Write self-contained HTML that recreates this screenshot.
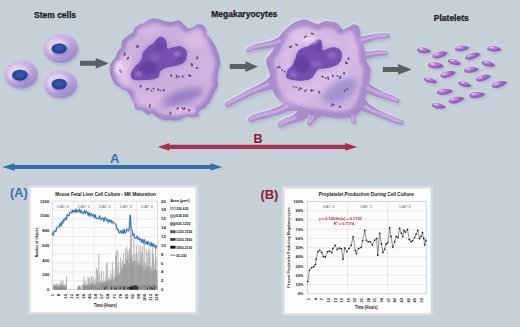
<!DOCTYPE html>
<html><head><meta charset="utf-8"><style>
html,body{margin:0;padding:0;width:520px;height:327px;overflow:hidden;background:#c5d0d8;}
svg{display:block;font-family:"Liberation Sans",sans-serif;}
</style></head><body>
<svg width="520" height="327" viewBox="0 0 520 327">
<defs>
<linearGradient id="cellg" x1="0.15" y1="0.05" x2="0.8" y2="1">
  <stop offset="0" stop-color="#d6c0e6"/>
  <stop offset="0.45" stop-color="#c0a6dc"/>
  <stop offset="1" stop-color="#9286c8"/>
</linearGradient>
<radialGradient id="nucg" cx="0.5" cy="0.45" r="0.6">
  <stop offset="0" stop-color="#3860b8"/>
  <stop offset="1" stop-color="#1f3a88"/>
</radialGradient>
<radialGradient id="plg" cx="0.32" cy="0.32" r="0.72" fx="0.3" fy="0.28">
  <stop offset="0" stop-color="#f8e0f6"/>
  <stop offset="0.25" stop-color="#bc8ad6"/>
  <stop offset="0.65" stop-color="#9462bc"/>
  <stop offset="1" stop-color="#8858b2"/>
</radialGradient>
<filter id="blur05" x="-30%" y="-30%" width="160%" height="160%"><feGaussianBlur stdDeviation="0.45"/></filter>
<filter id="blur1" x="-30%" y="-30%" width="160%" height="160%"><feGaussianBlur stdDeviation="0.7"/></filter>
<filter id="blur12" x="-40%" y="-40%" width="180%" height="180%"><feGaussianBlur stdDeviation="1.1"/></filter>
<filter id="blur2" x="-40%" y="-40%" width="180%" height="180%"><feGaussianBlur stdDeviation="1.5"/></filter>
<filter id="blur3" x="-50%" y="-50%" width="200%" height="200%"><feGaussianBlur stdDeviation="3"/></filter>
<filter id="shadow" x="-40%" y="-40%" width="180%" height="180%"><feGaussianBlur stdDeviation="1.4"/></filter>
</defs>
<rect x="0" y="0" width="520" height="327" fill="#c5d0d8"/>
<g font-family="Liberation Sans, sans-serif" font-weight="bold" font-size="8.5" fill="#1c1c22" stroke="#1c1c22" stroke-width="0.25"><text x="34" y="17.7">Stem cells</text><text x="211.2" y="16.9">Megakaryocytes</text><text x="433.8" y="20.9">Platelets</text></g>
<ellipse cx="61.9" cy="50.3" rx="17.3" ry="14.5" fill="#9890bc" opacity="0.45" filter="url(#shadow)"/><ellipse cx="60.7" cy="48.5" rx="17.3" ry="14.5" fill="url(#cellg)" filter="url(#blur1)"/><ellipse cx="57.7" cy="47" rx="10.8" ry="8.2" fill="#eadaf2" opacity="0.85" filter="url(#blur2)"/><ellipse cx="60.1" cy="49.6" rx="8.9" ry="6.4" fill="#8e7cc8" opacity="0.6" filter="url(#blur1)"/><ellipse cx="59.2" cy="48.6" rx="7.6" ry="5.2" fill="url(#nucg)" filter="url(#blur05)"/>
<ellipse cx="22.2" cy="76.4" rx="16.8" ry="14" fill="#9890bc" opacity="0.45" filter="url(#shadow)"/><ellipse cx="21" cy="74.6" rx="16.8" ry="14" fill="url(#cellg)" filter="url(#blur1)"/><ellipse cx="18.4" cy="73.6" rx="11" ry="8.5" fill="#eadaf2" opacity="0.85" filter="url(#blur2)"/><ellipse cx="20.8" cy="76.2" rx="9.1" ry="6.7" fill="#8e7cc8" opacity="0.6" filter="url(#blur1)"/><ellipse cx="19.9" cy="75.2" rx="7.8" ry="5.5" fill="url(#nucg)" filter="url(#blur05)"/>
<ellipse cx="61.7" cy="86.2" rx="16.6" ry="13.8" fill="#9890bc" opacity="0.45" filter="url(#shadow)"/><ellipse cx="60.5" cy="84.4" rx="16.6" ry="13.8" fill="url(#cellg)" filter="url(#blur1)"/><ellipse cx="57.7" cy="82.5" rx="10.8" ry="8.4" fill="#eadaf2" opacity="0.85" filter="url(#blur2)"/><ellipse cx="60.1" cy="85.1" rx="8.9" ry="6.6" fill="#8e7cc8" opacity="0.6" filter="url(#blur1)"/><ellipse cx="59.2" cy="84.1" rx="7.6" ry="5.4" fill="url(#nucg)" filter="url(#blur05)"/>
<path d="M80,60.75 H95.7 V57.95 L108.7,63.3 L95.7,68.65 V65.85 H80 Z" fill="#5e5f62"/>
<path d="M229.8,64.1 H245.4 V61.3 L258,66.6 L245.4,71.9 V69.1 H229.8 Z" fill="#5e5f62"/>
<path d="M382.8,66.9 H398.1 V64 L411.6,69.4 L398.1,74.8 V71.9 H382.8 Z" fill="#5e5f62"/>
<g>
<path d="M154.6,19.1 C156.58,19.23 159.67,20.37 161.4,20.8 C163.13,21.23 163.27,21.4 165,21.7 C166.73,22 169.67,22.75 171.8,22.6 C173.93,22.45 176.08,20.67 177.8,20.8 C179.52,20.93 180.53,22.12 182.1,23.4 C183.67,24.68 185.48,27.65 187.2,28.5 C188.92,29.35 190.83,29.07 192.4,28.5 C193.97,27.93 195.03,25.67 196.6,25.1 C198.17,24.53 200.37,24.53 201.8,25.1 C203.23,25.67 204.5,27.07 205.2,28.5 C205.9,29.93 205.28,32.12 206,33.7 C206.72,35.28 208.35,36.43 209.5,38 C210.65,39.57 211.9,41.4 212.9,43.1 C213.9,44.8 214.65,46.22 215.5,48.2 C216.35,50.18 217.33,52.7 218,55 C218.67,57.3 219.42,59.83 219.5,62 C219.58,64.17 218.87,66.17 218.5,68 C218.13,69.83 217.65,71.05 217.3,73 C216.95,74.95 216.4,77.67 216.4,79.7 C216.4,81.73 217.6,83.37 217.3,85.2 C217,87.03 215.52,88.87 214.6,90.7 C213.68,92.53 212.72,94.37 211.8,96.2 C210.88,98.03 210.32,99.87 209.1,101.7 C207.88,103.53 206.35,105.67 204.5,107.2 C202.65,108.73 199.08,109.52 198,110.9 C196.92,112.28 198.92,114.58 198,115.5 C197.08,116.42 194.33,116.4 192.5,116.4 C190.67,116.4 188.83,115.18 187,115.5 C185.17,115.82 183.33,117.53 181.5,118.3 C179.67,119.07 177.83,119.95 176,120.1 C174.17,120.25 172.42,119.28 170.5,119.2 C168.58,119.12 166.55,119.92 164.5,119.6 C162.45,119.28 160.17,118.45 158.2,117.3 C156.23,116.15 154.53,113.3 152.7,112.7 C150.87,112.1 149.03,114.3 147.2,113.7 C145.37,113.1 143.53,109.87 141.7,109.1 C139.87,108.33 137.42,110.02 136.2,109.1 C134.98,108.18 135.32,105.75 134.4,103.6 C133.48,101.45 131.93,98.35 130.7,96.2 C129.47,94.05 128.53,92.07 127,90.7 C125.47,89.33 123.48,89.22 121.5,88 C119.52,86.78 116.63,85.08 115.1,83.4 C113.57,81.72 113.07,79.75 112.3,77.9 C111.53,76.05 110.8,74.15 110.5,72.3 C110.2,70.45 110.28,68.38 110.5,66.8 C110.72,65.22 111,64.18 111.8,62.8 C112.6,61.42 114.43,59.8 115.3,58.5 C116.17,57.2 116.43,56.28 117,55 C117.57,53.72 117.85,52.07 118.7,50.8 C119.55,49.53 121.53,48.83 122.1,47.4 C122.67,45.97 121.67,43.63 122.1,42.2 C122.53,40.77 123.55,39.93 124.7,38.8 C125.85,37.67 127.58,36.4 129,35.4 C130.42,34.4 132.22,33.95 133.2,32.8 C134.18,31.65 133.9,29.78 134.9,28.5 C135.9,27.22 137.63,25.95 139.2,25.1 C140.77,24.25 142.58,24.25 144.3,23.4 C146.02,22.55 147.78,20.72 149.5,20 C151.22,19.28 152.62,18.97 154.6,19.1Z" fill="#8a80b4" opacity="0.4" filter="url(#blur2)" transform="translate(1.5,2)"/>
<path d="M154.6,19.1 C156.58,19.23 159.67,20.37 161.4,20.8 C163.13,21.23 163.27,21.4 165,21.7 C166.73,22 169.67,22.75 171.8,22.6 C173.93,22.45 176.08,20.67 177.8,20.8 C179.52,20.93 180.53,22.12 182.1,23.4 C183.67,24.68 185.48,27.65 187.2,28.5 C188.92,29.35 190.83,29.07 192.4,28.5 C193.97,27.93 195.03,25.67 196.6,25.1 C198.17,24.53 200.37,24.53 201.8,25.1 C203.23,25.67 204.5,27.07 205.2,28.5 C205.9,29.93 205.28,32.12 206,33.7 C206.72,35.28 208.35,36.43 209.5,38 C210.65,39.57 211.9,41.4 212.9,43.1 C213.9,44.8 214.65,46.22 215.5,48.2 C216.35,50.18 217.33,52.7 218,55 C218.67,57.3 219.42,59.83 219.5,62 C219.58,64.17 218.87,66.17 218.5,68 C218.13,69.83 217.65,71.05 217.3,73 C216.95,74.95 216.4,77.67 216.4,79.7 C216.4,81.73 217.6,83.37 217.3,85.2 C217,87.03 215.52,88.87 214.6,90.7 C213.68,92.53 212.72,94.37 211.8,96.2 C210.88,98.03 210.32,99.87 209.1,101.7 C207.88,103.53 206.35,105.67 204.5,107.2 C202.65,108.73 199.08,109.52 198,110.9 C196.92,112.28 198.92,114.58 198,115.5 C197.08,116.42 194.33,116.4 192.5,116.4 C190.67,116.4 188.83,115.18 187,115.5 C185.17,115.82 183.33,117.53 181.5,118.3 C179.67,119.07 177.83,119.95 176,120.1 C174.17,120.25 172.42,119.28 170.5,119.2 C168.58,119.12 166.55,119.92 164.5,119.6 C162.45,119.28 160.17,118.45 158.2,117.3 C156.23,116.15 154.53,113.3 152.7,112.7 C150.87,112.1 149.03,114.3 147.2,113.7 C145.37,113.1 143.53,109.87 141.7,109.1 C139.87,108.33 137.42,110.02 136.2,109.1 C134.98,108.18 135.32,105.75 134.4,103.6 C133.48,101.45 131.93,98.35 130.7,96.2 C129.47,94.05 128.53,92.07 127,90.7 C125.47,89.33 123.48,89.22 121.5,88 C119.52,86.78 116.63,85.08 115.1,83.4 C113.57,81.72 113.07,79.75 112.3,77.9 C111.53,76.05 110.8,74.15 110.5,72.3 C110.2,70.45 110.28,68.38 110.5,66.8 C110.72,65.22 111,64.18 111.8,62.8 C112.6,61.42 114.43,59.8 115.3,58.5 C116.17,57.2 116.43,56.28 117,55 C117.57,53.72 117.85,52.07 118.7,50.8 C119.55,49.53 121.53,48.83 122.1,47.4 C122.67,45.97 121.67,43.63 122.1,42.2 C122.53,40.77 123.55,39.93 124.7,38.8 C125.85,37.67 127.58,36.4 129,35.4 C130.42,34.4 132.22,33.95 133.2,32.8 C134.18,31.65 133.9,29.78 134.9,28.5 C135.9,27.22 137.63,25.95 139.2,25.1 C140.77,24.25 142.58,24.25 144.3,23.4 C146.02,22.55 147.78,20.72 149.5,20 C151.22,19.28 152.62,18.97 154.6,19.1Z" fill="#a488ca" filter="url(#blur05)"/>
<path d="M155.55,23.5 C157.37,23.67 160.19,24.83 161.78,25.28 C163.36,25.73 163.48,25.9 165.05,26.2 C166.62,26.5 169.26,27.23 171.2,27.06 C173.14,26.89 175.14,25.07 176.7,25.16 C178.26,25.26 179.18,26.41 180.58,27.63 C181.97,28.85 183.54,31.71 185.09,32.48 C186.65,33.25 188.44,32.88 189.93,32.26 C191.42,31.65 192.51,29.4 194.02,28.79 C195.52,28.17 197.61,28.09 198.95,28.58 C200.29,29.08 201.46,30.38 202.07,31.73 C202.68,33.08 202,35.2 202.63,36.68 C203.26,38.16 204.78,39.18 205.84,40.62 C206.9,42.05 208.05,43.73 208.97,45.29 C209.89,46.85 210.58,48.15 211.36,49.96 C212.14,51.78 213.05,54.09 213.66,56.2 C214.28,58.31 214.99,60.63 215.04,62.62 C215.1,64.61 214.37,66.45 214,68.13 C213.63,69.81 213.15,70.92 212.81,72.7 C212.47,74.48 211.96,76.95 211.99,78.82 C212.02,80.68 213.25,82.21 212.99,83.89 C212.74,85.58 211.32,87.24 210.47,88.92 C209.62,90.59 208.73,92.27 207.9,93.95 C207.07,95.64 206.59,97.34 205.48,99.03 C204.37,100.71 202.97,102.68 201.26,104.07 C199.55,105.46 196.2,106.07 195.22,107.36 C194.24,108.65 196.23,110.97 195.4,111.82 C194.58,112.68 191.97,112.57 190.25,112.5 C188.54,112.43 186.79,111.17 185.09,111.42 C183.4,111.68 181.77,113.31 180.1,114.02 C178.43,114.74 176.76,115.58 175.09,115.69 C173.41,115.81 171.8,114.82 170.05,114.72 C168.3,114.62 166.45,115.41 164.59,115.1 C162.73,114.79 160.65,113.97 158.88,112.85 C157.11,111.73 155.64,108.94 153.98,108.39 C152.32,107.83 150.58,110.07 148.92,109.54 C147.26,109.02 145.69,105.92 144.02,105.24 C142.34,104.57 139.97,106.31 138.88,105.48 C137.78,104.65 138.2,102.28 137.43,100.28 C136.66,98.27 135.35,95.42 134.27,93.46 C133.19,91.5 132.38,89.73 130.94,88.53 C129.5,87.33 127.57,87.31 125.65,86.26 C123.73,85.2 120.92,83.71 119.44,82.2 C117.95,80.69 117.49,78.89 116.74,77.2 C116,75.51 115.29,73.77 114.99,72.07 C114.7,70.37 114.78,68.47 114.99,67.02 C115.21,65.57 115.48,64.62 116.27,63.36 C117.05,62.1 118.85,60.64 119.7,59.46 C120.54,58.29 120.78,57.45 121.31,56.29 C121.84,55.12 122.08,53.61 122.88,52.47 C123.68,51.33 125.6,50.75 126.11,49.44 C126.62,48.13 125.54,45.92 125.91,44.6 C126.27,43.27 127.23,42.53 128.3,41.51 C129.36,40.48 130.98,39.36 132.29,38.47 C133.6,37.58 135.29,37.24 136.17,36.18 C137.06,35.12 136.7,33.31 137.59,32.11 C138.48,30.91 140.06,29.74 141.49,28.97 C142.92,28.2 144.62,28.27 146.18,27.49 C147.75,26.71 149.32,24.95 150.88,24.28 C152.45,23.62 153.74,23.33 155.55,23.5Z" fill="#cbb0dd" filter="url(#blur2)"/>
<path d="M154.6,19.1 C156.58,19.23 159.67,20.37 161.4,20.8 C163.13,21.23 163.27,21.4 165,21.7 C166.73,22 169.67,22.75 171.8,22.6 C173.93,22.45 176.08,20.67 177.8,20.8 C179.52,20.93 180.53,22.12 182.1,23.4 C183.67,24.68 185.48,27.65 187.2,28.5 C188.92,29.35 190.83,29.07 192.4,28.5 C193.97,27.93 195.03,25.67 196.6,25.1 C198.17,24.53 200.37,24.53 201.8,25.1 C203.23,25.67 204.5,27.07 205.2,28.5 C205.9,29.93 205.28,32.12 206,33.7 C206.72,35.28 208.35,36.43 209.5,38 C210.65,39.57 211.9,41.4 212.9,43.1 C213.9,44.8 214.65,46.22 215.5,48.2 C216.35,50.18 217.33,52.7 218,55 C218.67,57.3 219.42,59.83 219.5,62 C219.58,64.17 218.87,66.17 218.5,68 C218.13,69.83 217.65,71.05 217.3,73 C216.95,74.95 216.4,77.67 216.4,79.7 C216.4,81.73 217.6,83.37 217.3,85.2 C217,87.03 215.52,88.87 214.6,90.7 C213.68,92.53 212.72,94.37 211.8,96.2 C210.88,98.03 210.32,99.87 209.1,101.7 C207.88,103.53 206.35,105.67 204.5,107.2 C202.65,108.73 199.08,109.52 198,110.9 C196.92,112.28 198.92,114.58 198,115.5 C197.08,116.42 194.33,116.4 192.5,116.4 C190.67,116.4 188.83,115.18 187,115.5 C185.17,115.82 183.33,117.53 181.5,118.3 C179.67,119.07 177.83,119.95 176,120.1 C174.17,120.25 172.42,119.28 170.5,119.2 C168.58,119.12 166.55,119.92 164.5,119.6 C162.45,119.28 160.17,118.45 158.2,117.3 C156.23,116.15 154.53,113.3 152.7,112.7 C150.87,112.1 149.03,114.3 147.2,113.7 C145.37,113.1 143.53,109.87 141.7,109.1 C139.87,108.33 137.42,110.02 136.2,109.1 C134.98,108.18 135.32,105.75 134.4,103.6 C133.48,101.45 131.93,98.35 130.7,96.2 C129.47,94.05 128.53,92.07 127,90.7 C125.47,89.33 123.48,89.22 121.5,88 C119.52,86.78 116.63,85.08 115.1,83.4 C113.57,81.72 113.07,79.75 112.3,77.9 C111.53,76.05 110.8,74.15 110.5,72.3 C110.2,70.45 110.28,68.38 110.5,66.8 C110.72,65.22 111,64.18 111.8,62.8 C112.6,61.42 114.43,59.8 115.3,58.5 C116.17,57.2 116.43,56.28 117,55 C117.57,53.72 117.85,52.07 118.7,50.8 C119.55,49.53 121.53,48.83 122.1,47.4 C122.67,45.97 121.67,43.63 122.1,42.2 C122.53,40.77 123.55,39.93 124.7,38.8 C125.85,37.67 127.58,36.4 129,35.4 C130.42,34.4 132.22,33.95 133.2,32.8 C134.18,31.65 133.9,29.78 134.9,28.5 C135.9,27.22 137.63,25.95 139.2,25.1 C140.77,24.25 142.58,24.25 144.3,23.4 C146.02,22.55 147.78,20.72 149.5,20 C151.22,19.28 152.62,18.97 154.6,19.1Z" fill="none" stroke="#9274c0" stroke-width="1.5" opacity="0.5" filter="url(#blur05)"/>
<ellipse cx="126" cy="72" rx="8" ry="16" fill="#e6c4ec" opacity="0.75" filter="url(#blur3)"/>
<ellipse cx="119" cy="68" rx="4.5" ry="7" fill="#f0dcf4" opacity="0.8" filter="url(#blur2)"/>
<ellipse cx="152" cy="100" rx="20" ry="7" fill="#e2bce8" opacity="0.7" filter="url(#blur3)"/>
<ellipse cx="196" cy="40" rx="12" ry="8" fill="#e4c2ea" opacity="0.65" filter="url(#blur3)"/>
<ellipse cx="150" cy="30" rx="14" ry="5" fill="#e0c0ea" opacity="0.55" filter="url(#blur3)"/>
<ellipse cx="182" cy="97" rx="22" ry="6.5" fill="#8468bc" opacity="0.7" filter="url(#blur3)" transform="rotate(-18 182 97)"/>
<ellipse cx="182" cy="111" rx="14" ry="4" fill="#e4bce6" opacity="0.7" filter="url(#blur2)"/>
<ellipse cx="206" cy="70" rx="6" ry="14" fill="#dcb8e6" opacity="0.5" filter="url(#blur3)"/>
<path d="M158.4,37.5 C160.08,36.57 162.3,36.57 163.7,37.5 C165.1,38.43 166.15,41.27 166.8,43.1 C167.45,44.93 166.48,47.8 167.6,48.5 C168.72,49.2 171.4,47.65 173.5,47.3 C175.6,46.95 178.23,46.12 180.2,46.4 C182.17,46.68 184.17,47.87 185.3,49 C186.43,50.13 186.87,51.67 187,53.2 C187.13,54.73 186.67,56.67 186.1,58.2 C185.53,59.73 184.87,61.28 183.6,62.4 C182.33,63.52 180.47,64.2 178.5,64.9 C176.53,65.6 174.03,66.03 171.8,66.6 C169.57,67.17 167.07,67.45 165.1,68.3 C163.13,69.15 161.08,70.3 160,71.7 C158.92,73.1 159.67,75.45 158.6,76.7 C157.53,77.95 155.83,78.63 153.6,79.2 C151.37,79.77 148,79.95 145.2,80.1 C142.4,80.25 139.05,80.38 136.8,80.1 C134.55,79.82 132.68,79.53 131.7,78.4 C130.72,77.27 130.48,75.12 130.9,73.3 C131.32,71.48 132.95,69.17 134.2,67.5 C135.45,65.83 137.13,64.85 138.4,63.3 C139.67,61.75 141.1,59.88 141.8,58.2 C142.5,56.52 142.03,54.6 142.6,53.2 C143.17,51.8 144.22,50.93 145.2,49.8 C146.18,48.67 147.1,47.52 148.5,46.4 C149.9,45.28 151.95,44.58 153.6,43.1 C155.25,41.62 156.72,38.43 158.4,37.5Z" fill="#8c6cc4" opacity="0.55" filter="url(#blur3)"/>
<path d="M158.4,37.5 C160.08,36.57 162.3,36.57 163.7,37.5 C165.1,38.43 166.15,41.27 166.8,43.1 C167.45,44.93 166.48,47.8 167.6,48.5 C168.72,49.2 171.4,47.65 173.5,47.3 C175.6,46.95 178.23,46.12 180.2,46.4 C182.17,46.68 184.17,47.87 185.3,49 C186.43,50.13 186.87,51.67 187,53.2 C187.13,54.73 186.67,56.67 186.1,58.2 C185.53,59.73 184.87,61.28 183.6,62.4 C182.33,63.52 180.47,64.2 178.5,64.9 C176.53,65.6 174.03,66.03 171.8,66.6 C169.57,67.17 167.07,67.45 165.1,68.3 C163.13,69.15 161.08,70.3 160,71.7 C158.92,73.1 159.67,75.45 158.6,76.7 C157.53,77.95 155.83,78.63 153.6,79.2 C151.37,79.77 148,79.95 145.2,80.1 C142.4,80.25 139.05,80.38 136.8,80.1 C134.55,79.82 132.68,79.53 131.7,78.4 C130.72,77.27 130.48,75.12 130.9,73.3 C131.32,71.48 132.95,69.17 134.2,67.5 C135.45,65.83 137.13,64.85 138.4,63.3 C139.67,61.75 141.1,59.88 141.8,58.2 C142.5,56.52 142.03,54.6 142.6,53.2 C143.17,51.8 144.22,50.93 145.2,49.8 C146.18,48.67 147.1,47.52 148.5,46.4 C149.9,45.28 151.95,44.58 153.6,43.1 C155.25,41.62 156.72,38.43 158.4,37.5Z" fill="#7650b0" filter="url(#blur1)"/>
<ellipse cx="148" cy="68" rx="9" ry="7" fill="#623c9c" opacity="0.8" filter="url(#blur2)"/>
<ellipse cx="160" cy="46" rx="5" ry="4" fill="#643e9e" opacity="0.6" filter="url(#blur2)"/>
<ellipse cx="181" cy="59" rx="5" ry="3.5" fill="#6a44a4" opacity="0.6" filter="url(#blur2)"/>
<ellipse cx="176.8" cy="54" rx="4" ry="2.6" fill="#a884d2" opacity="0.65" filter="url(#blur12)"/>
<ellipse cx="138.6" cy="74.2" rx="4" ry="2.6" fill="#a07acc" opacity="0.65" filter="url(#blur12)"/>
<ellipse cx="155" cy="57" rx="5" ry="4" fill="#8e6ac2" opacity="0.6" filter="url(#blur2)"/>
</g>
<g fill="#4a2c6c" opacity="0.8" filter="url(#blur05)"><circle cx="124.23" cy="54.32" r="0.9"/><circle cx="125.01" cy="53.47" r="0.9"/><circle cx="124.49" cy="54.94" r="0.9"/><circle cx="128.31" cy="57.75" r="0.9"/><circle cx="127.49" cy="58.78" r="0.9"/><circle cx="137.01" cy="47.12" r="0.9"/><circle cx="137.09" cy="45.87" r="0.9"/><circle cx="138.42" cy="46.33" r="0.9"/><circle cx="140.36" cy="86.54" r="0.9"/><circle cx="140.99" cy="85.93" r="0.9"/><circle cx="147.34" cy="89.07" r="0.9"/><circle cx="146.76" cy="89.33" r="0.9"/><circle cx="148.37" cy="88.63" r="0.9"/><circle cx="153.58" cy="88.58" r="0.9"/><circle cx="151.58" cy="90.65" r="0.9"/><circle cx="158.31" cy="89.31" r="0.9"/><circle cx="160.27" cy="90.6" r="0.9"/><circle cx="157.79" cy="89.57" r="0.9"/><circle cx="164.18" cy="89.95" r="0.9"/><circle cx="163.42" cy="90.56" r="0.9"/><circle cx="171.37" cy="75.75" r="0.9"/><circle cx="170.99" cy="75.06" r="0.9"/><circle cx="176.51" cy="77.39" r="0.9"/><circle cx="178.79" cy="76.64" r="0.9"/><circle cx="176.8" cy="75.66" r="0.9"/><circle cx="182.78" cy="76.56" r="0.9"/><circle cx="182.58" cy="76.46" r="0.9"/><circle cx="189.05" cy="75.26" r="0.9"/><circle cx="190.49" cy="75.9" r="0.9"/><circle cx="189.92" cy="75.66" r="0.9"/><circle cx="192.12" cy="65.68" r="0.9"/><circle cx="191.39" cy="63.97" r="0.9"/><circle cx="191.94" cy="64.71" r="0.9"/><circle cx="196.9" cy="68.07" r="0.9"/><circle cx="197.19" cy="67.84" r="0.9"/><circle cx="178.14" cy="107.86" r="0.9"/><circle cx="177.41" cy="108.93" r="0.9"/><circle cx="184.65" cy="108.19" r="0.9"/><circle cx="183.98" cy="109.27" r="0.9"/><circle cx="182.51" cy="108.01" r="0.9"/><circle cx="189.33" cy="110.55" r="0.9"/><circle cx="188.88" cy="109.81" r="0.9"/><circle cx="120.02" cy="70.43" r="0.9"/><circle cx="121.2" cy="72.11" r="0.9"/><circle cx="149.94" cy="104.85" r="0.9"/><circle cx="149.67" cy="106.73" r="0.9"/><circle cx="197.44" cy="57.05" r="0.9"/><circle cx="196.99" cy="58.51" r="0.9"/><circle cx="170.39" cy="112.49" r="0.9"/><circle cx="170.4" cy="113.63" r="0.9"/></g>
<g>
<g fill="#8a80b4" opacity="0.32" filter="url(#blur2)" transform="translate(1.5,2)"><path d="M282,33 C284.17,30.42 287.33,27.5 290,25.5 C292.67,23.5 295.5,21.98 298,21 C300.5,20.02 302.83,19.52 305,19.6 C307.17,19.68 308.87,20.78 311,21.5 C313.13,22.22 315.47,23.98 317.8,23.9 C320.13,23.82 322.63,21.38 325,21 C327.37,20.62 330.17,21.35 332,21.6 C333.83,21.85 334.8,21.92 336,22.5 C337.2,23.08 338.05,23.98 339.2,25.1 C340.35,26.22 341.37,28.9 342.9,29.2 C344.43,29.5 346.57,27.73 348.4,26.9 C350.23,26.07 352.22,24.35 353.9,24.2 C355.58,24.05 357.43,24.78 358.5,26 C359.57,27.22 359.88,29.5 360.3,31.5 C360.72,33.5 360.38,35.58 361,38 C361.62,40.42 363.25,43.17 364,46 C364.75,48.83 365,52.33 365.5,55 C366,57.67 366.17,59.83 367,62 C367.83,64.17 370,65.67 370.5,68 C371,70.33 370.25,73.33 370,76 C369.75,78.67 369.5,81.17 369,84 C368.5,86.83 367.83,89.67 367,93 C366.17,96.33 365.17,100.83 364,104 C362.83,107.17 362,109.75 360,112 C358,114.25 355.33,116.42 352,117.5 C348.67,118.58 343.67,118.5 340,118.5 C336.33,118.5 333.07,117.88 330,117.5 C326.93,117.12 324.93,116.62 321.6,116.2 C318.27,115.78 313.6,115.7 310,115 C306.4,114.3 303.33,113.17 300,112 C296.67,110.83 293.33,109.83 290,108 C286.67,106.17 282.83,103.67 280,101 C277.17,98.33 274.67,95.17 273,92 C271.33,88.83 270.57,85.17 270,82 C269.43,78.83 270.13,75.7 269.6,73 C269.07,70.3 267.35,68.13 266.8,65.8 C266.25,63.47 265.93,60.73 266.3,59 C266.67,57.27 267.88,56.9 269,55.4 C270.12,53.9 271.67,52.4 273,50 C274.33,47.6 275.5,43.83 277,41 C278.5,38.17 279.83,35.58 282,33Z"/><path d="M285.3,32.21 C283.24,31.51 280.83,36.14 278.3,37.6 C275.78,39.07 273.14,40.06 270.16,41 C267.18,41.94 263.5,42.48 260.43,43.26 C257.35,44.03 253.97,44.75 251.71,45.63 C249.46,46.5 247.87,47.78 246.88,48.49 C245.9,49.2 245.94,49.35 245.79,49.87 C245.64,50.39 245.73,51.14 245.99,51.62 C246.25,52.09 246.85,52.56 247.37,52.71 C247.89,52.86 248.13,52.9 249.12,52.51 C250.1,52.12 251.21,50.93 253.29,50.37 C255.36,49.81 258.48,49.57 261.57,49.14 C264.67,48.72 268.49,48.42 271.84,47.8 C275.19,47.17 278.55,46.4 281.7,45.4 C284.84,44.4 290.1,43.99 290.7,41.79 C291.3,39.6 287.37,32.9 285.3,32.21Z"/><path d="M274.47,74.41 C272.26,72.87 268.73,78.62 266.24,80.32 C263.76,82.01 261.83,83.33 259.58,84.58 C257.33,85.84 255.06,86.74 252.74,87.86 C250.42,88.98 248.01,90.09 245.66,91.32 C243.31,92.55 240.95,93.96 238.63,95.24 C236.31,96.53 233.82,97.87 231.72,99.01 C229.62,100.15 227.2,101.31 226.04,102.07 C224.87,102.84 224.93,103 224.73,103.58 C224.54,104.16 224.6,105.01 224.87,105.56 C225.15,106.11 225.8,106.67 226.38,106.87 C226.96,107.06 227.05,107.21 228.36,106.73 C229.68,106.25 232.12,105.05 234.28,103.99 C236.45,102.93 239.03,101.57 241.37,100.36 C243.71,99.14 246.03,97.79 248.34,96.68 C250.66,95.58 252.91,94.62 255.26,93.74 C257.61,92.86 260,92.09 262.42,91.42 C264.83,90.74 266.9,89.99 269.76,89.68 C272.61,89.38 278.74,92.13 279.53,89.59 C280.32,87.04 276.68,75.96 274.47,74.41Z"/><path d="M296.79,96.36 C294.15,95.22 288.44,101.07 285.41,102.79 C282.38,104.52 281.02,105.57 278.61,106.72 C276.2,107.86 273.53,108.78 270.96,109.66 C268.38,110.54 265.81,111.24 263.16,112.01 C260.51,112.77 257.28,113.47 255.07,114.24 C252.85,115.01 251,115.97 249.88,116.63 C248.75,117.29 248.57,117.57 248.32,118.2 C248.06,118.84 248.06,119.79 248.33,120.42 C248.59,121.05 249.27,121.73 249.9,121.98 C250.54,122.24 250.95,122.28 252.12,121.97 C253.29,121.67 254.81,120.75 256.93,120.16 C259.05,119.56 262.15,119.03 264.84,118.39 C267.52,117.76 270.28,117.13 273.04,116.34 C275.8,115.56 278.8,114.54 281.39,113.68 C283.98,112.83 285.29,111.88 288.59,111.21 C291.9,110.53 299.85,112.12 301.21,109.64 C302.58,107.17 299.42,97.5 296.79,96.36Z"/><path d="M303.17,107.28 C300.59,107.04 296.26,113.42 293.35,115.23 C290.44,117.04 288.08,117.05 285.72,118.15 C283.36,119.25 280.52,120.91 279.17,121.81 C277.83,122.71 277.89,122.86 277.66,123.53 C277.43,124.2 277.5,125.19 277.81,125.83 C278.12,126.46 278.86,127.11 279.53,127.34 C280.2,127.57 280.37,127.67 281.83,127.19 C283.28,126.71 285.81,125.32 288.28,124.45 C290.75,123.58 293.22,123.26 296.65,121.97 C300.07,120.68 307.74,119.16 308.83,116.72 C309.92,114.27 305.75,107.53 303.17,107.28Z"/><path d="M314.16,108.8 C312.26,108.94 311.59,113.94 310.46,116.06 C309.32,118.17 307.95,120.24 307.37,121.48 C306.78,122.72 306.83,122.88 306.95,123.51 C307.07,124.13 307.56,124.87 308.08,125.23 C308.61,125.59 309.48,125.77 310.11,125.65 C310.73,125.53 310.93,125.47 311.83,124.52 C312.74,123.57 313.88,121.5 315.54,119.94 C317.21,118.39 322.07,117.06 321.84,115.2 C321.61,113.34 316.06,108.66 314.16,108.8Z"/><path d="M359.31,92.46 C359.51,94.71 363.75,92.6 365.92,93.05 C368.08,93.49 369.83,94.31 372.32,95.13 C374.8,95.95 378.06,97.06 380.83,97.98 C383.6,98.89 386.45,99.75 388.94,100.61 C391.43,101.46 394.29,102.68 395.77,103.1 C397.26,103.51 397.25,103.34 397.84,103.09 C398.43,102.85 399.05,102.22 399.3,101.63 C399.54,101.04 399.54,100.15 399.29,99.56 C399.05,98.97 399.2,98.86 397.83,98.1 C396.46,97.34 393.5,96.01 391.06,94.99 C388.62,93.98 385.74,93.21 383.17,92.02 C380.61,90.84 377.87,89.22 375.68,87.87 C373.5,86.53 371.92,85.34 370.08,83.95 C368.25,82.57 366.49,78.12 364.69,79.54 C362.9,80.96 359.1,90.21 359.31,92.46Z"/><path d="M356.47,110.05 C356.51,112.34 361.09,110.9 363.76,111.69 C366.43,112.47 369.47,113.69 372.48,114.76 C375.49,115.84 378.66,116.94 381.82,118.16 C384.98,119.38 388.37,120.99 391.46,122.11 C394.55,123.22 398.54,124.42 400.35,124.86 C402.17,125.3 401.79,125.01 402.34,124.74 C402.89,124.47 403.46,123.83 403.66,123.25 C403.86,122.67 403.81,121.81 403.54,121.26 C403.27,120.71 403.71,120.7 402.05,119.94 C400.38,119.18 396.52,117.91 393.54,116.69 C390.56,115.48 387.18,114.05 384.18,112.64 C381.17,111.23 378.17,109.79 375.52,108.24 C372.86,106.68 370.24,105.03 368.24,103.31 C366.24,101.6 365.49,96.83 363.53,97.95 C361.57,99.08 356.43,107.76 356.47,110.05Z"/><path d="M357.21,46.85 C358.6,48.05 360.84,45.32 363.1,44.35 C365.36,43.37 368.2,41.85 370.75,41.01 C373.3,40.16 375.6,39.77 378.4,39.27 C381.2,38.77 385.76,38.35 387.57,37.99 C389.37,37.62 388.88,37.53 389.25,37.07 C389.62,36.61 389.85,35.82 389.79,35.23 C389.72,34.65 389.33,33.92 388.87,33.55 C388.41,33.18 388.91,32.99 387.03,33.01 C385.15,33.04 380.56,33.4 377.6,33.73 C374.64,34.06 372.03,34.51 369.25,34.99 C366.47,35.48 363.31,36.29 360.9,36.65 C358.49,37.01 355.4,35.45 354.79,37.15 C354.17,38.85 355.83,45.65 357.21,46.85Z"/><path d="M360.71,60.95 C362.08,62.18 365.12,59.2 367.55,58.46 C369.99,57.71 372.33,57.02 375.33,56.48 C378.33,55.94 383.59,55.54 385.55,55.19 C387.52,54.85 386.78,54.82 387.13,54.41 C387.49,54.01 387.73,53.29 387.69,52.75 C387.66,52.2 387.32,51.52 386.91,51.17 C386.51,50.81 387.29,50.68 385.25,50.61 C383.21,50.53 377.8,50.56 374.67,50.72 C371.54,50.88 369.01,51.49 366.45,51.54 C363.88,51.6 360.25,49.48 359.29,51.05 C358.34,52.62 359.33,59.72 360.71,60.95Z"/><path d="M345.98,114.01 C345.25,115.35 348.84,116.7 349.68,118.04 C350.53,119.38 350.65,121.11 351.06,122.04 C351.47,122.97 351.66,123.29 352.16,123.61 C352.65,123.93 353.47,124.07 354.04,123.94 C354.62,123.81 355.29,123.34 355.61,122.84 C355.93,122.35 355.99,122.1 355.94,120.96 C355.89,119.81 355.63,117.79 355.32,115.96 C355,114.13 355.58,110.31 354.02,109.99 C352.47,109.66 346.7,112.67 345.98,114.01Z"/></g>
<g fill="#e4e4f0" stroke="#e4e4f0" stroke-width="1.6" opacity="0.55" filter="url(#blur1)" transform="translate(-0.6,-0.8)"><path d="M282,33 C284.17,30.42 287.33,27.5 290,25.5 C292.67,23.5 295.5,21.98 298,21 C300.5,20.02 302.83,19.52 305,19.6 C307.17,19.68 308.87,20.78 311,21.5 C313.13,22.22 315.47,23.98 317.8,23.9 C320.13,23.82 322.63,21.38 325,21 C327.37,20.62 330.17,21.35 332,21.6 C333.83,21.85 334.8,21.92 336,22.5 C337.2,23.08 338.05,23.98 339.2,25.1 C340.35,26.22 341.37,28.9 342.9,29.2 C344.43,29.5 346.57,27.73 348.4,26.9 C350.23,26.07 352.22,24.35 353.9,24.2 C355.58,24.05 357.43,24.78 358.5,26 C359.57,27.22 359.88,29.5 360.3,31.5 C360.72,33.5 360.38,35.58 361,38 C361.62,40.42 363.25,43.17 364,46 C364.75,48.83 365,52.33 365.5,55 C366,57.67 366.17,59.83 367,62 C367.83,64.17 370,65.67 370.5,68 C371,70.33 370.25,73.33 370,76 C369.75,78.67 369.5,81.17 369,84 C368.5,86.83 367.83,89.67 367,93 C366.17,96.33 365.17,100.83 364,104 C362.83,107.17 362,109.75 360,112 C358,114.25 355.33,116.42 352,117.5 C348.67,118.58 343.67,118.5 340,118.5 C336.33,118.5 333.07,117.88 330,117.5 C326.93,117.12 324.93,116.62 321.6,116.2 C318.27,115.78 313.6,115.7 310,115 C306.4,114.3 303.33,113.17 300,112 C296.67,110.83 293.33,109.83 290,108 C286.67,106.17 282.83,103.67 280,101 C277.17,98.33 274.67,95.17 273,92 C271.33,88.83 270.57,85.17 270,82 C269.43,78.83 270.13,75.7 269.6,73 C269.07,70.3 267.35,68.13 266.8,65.8 C266.25,63.47 265.93,60.73 266.3,59 C266.67,57.27 267.88,56.9 269,55.4 C270.12,53.9 271.67,52.4 273,50 C274.33,47.6 275.5,43.83 277,41 C278.5,38.17 279.83,35.58 282,33Z"/><path d="M285.3,32.21 C283.24,31.51 280.83,36.14 278.3,37.6 C275.78,39.07 273.14,40.06 270.16,41 C267.18,41.94 263.5,42.48 260.43,43.26 C257.35,44.03 253.97,44.75 251.71,45.63 C249.46,46.5 247.87,47.78 246.88,48.49 C245.9,49.2 245.94,49.35 245.79,49.87 C245.64,50.39 245.73,51.14 245.99,51.62 C246.25,52.09 246.85,52.56 247.37,52.71 C247.89,52.86 248.13,52.9 249.12,52.51 C250.1,52.12 251.21,50.93 253.29,50.37 C255.36,49.81 258.48,49.57 261.57,49.14 C264.67,48.72 268.49,48.42 271.84,47.8 C275.19,47.17 278.55,46.4 281.7,45.4 C284.84,44.4 290.1,43.99 290.7,41.79 C291.3,39.6 287.37,32.9 285.3,32.21Z"/><path d="M274.47,74.41 C272.26,72.87 268.73,78.62 266.24,80.32 C263.76,82.01 261.83,83.33 259.58,84.58 C257.33,85.84 255.06,86.74 252.74,87.86 C250.42,88.98 248.01,90.09 245.66,91.32 C243.31,92.55 240.95,93.96 238.63,95.24 C236.31,96.53 233.82,97.87 231.72,99.01 C229.62,100.15 227.2,101.31 226.04,102.07 C224.87,102.84 224.93,103 224.73,103.58 C224.54,104.16 224.6,105.01 224.87,105.56 C225.15,106.11 225.8,106.67 226.38,106.87 C226.96,107.06 227.05,107.21 228.36,106.73 C229.68,106.25 232.12,105.05 234.28,103.99 C236.45,102.93 239.03,101.57 241.37,100.36 C243.71,99.14 246.03,97.79 248.34,96.68 C250.66,95.58 252.91,94.62 255.26,93.74 C257.61,92.86 260,92.09 262.42,91.42 C264.83,90.74 266.9,89.99 269.76,89.68 C272.61,89.38 278.74,92.13 279.53,89.59 C280.32,87.04 276.68,75.96 274.47,74.41Z"/><path d="M296.79,96.36 C294.15,95.22 288.44,101.07 285.41,102.79 C282.38,104.52 281.02,105.57 278.61,106.72 C276.2,107.86 273.53,108.78 270.96,109.66 C268.38,110.54 265.81,111.24 263.16,112.01 C260.51,112.77 257.28,113.47 255.07,114.24 C252.85,115.01 251,115.97 249.88,116.63 C248.75,117.29 248.57,117.57 248.32,118.2 C248.06,118.84 248.06,119.79 248.33,120.42 C248.59,121.05 249.27,121.73 249.9,121.98 C250.54,122.24 250.95,122.28 252.12,121.97 C253.29,121.67 254.81,120.75 256.93,120.16 C259.05,119.56 262.15,119.03 264.84,118.39 C267.52,117.76 270.28,117.13 273.04,116.34 C275.8,115.56 278.8,114.54 281.39,113.68 C283.98,112.83 285.29,111.88 288.59,111.21 C291.9,110.53 299.85,112.12 301.21,109.64 C302.58,107.17 299.42,97.5 296.79,96.36Z"/><path d="M303.17,107.28 C300.59,107.04 296.26,113.42 293.35,115.23 C290.44,117.04 288.08,117.05 285.72,118.15 C283.36,119.25 280.52,120.91 279.17,121.81 C277.83,122.71 277.89,122.86 277.66,123.53 C277.43,124.2 277.5,125.19 277.81,125.83 C278.12,126.46 278.86,127.11 279.53,127.34 C280.2,127.57 280.37,127.67 281.83,127.19 C283.28,126.71 285.81,125.32 288.28,124.45 C290.75,123.58 293.22,123.26 296.65,121.97 C300.07,120.68 307.74,119.16 308.83,116.72 C309.92,114.27 305.75,107.53 303.17,107.28Z"/><path d="M314.16,108.8 C312.26,108.94 311.59,113.94 310.46,116.06 C309.32,118.17 307.95,120.24 307.37,121.48 C306.78,122.72 306.83,122.88 306.95,123.51 C307.07,124.13 307.56,124.87 308.08,125.23 C308.61,125.59 309.48,125.77 310.11,125.65 C310.73,125.53 310.93,125.47 311.83,124.52 C312.74,123.57 313.88,121.5 315.54,119.94 C317.21,118.39 322.07,117.06 321.84,115.2 C321.61,113.34 316.06,108.66 314.16,108.8Z"/><path d="M359.31,92.46 C359.51,94.71 363.75,92.6 365.92,93.05 C368.08,93.49 369.83,94.31 372.32,95.13 C374.8,95.95 378.06,97.06 380.83,97.98 C383.6,98.89 386.45,99.75 388.94,100.61 C391.43,101.46 394.29,102.68 395.77,103.1 C397.26,103.51 397.25,103.34 397.84,103.09 C398.43,102.85 399.05,102.22 399.3,101.63 C399.54,101.04 399.54,100.15 399.29,99.56 C399.05,98.97 399.2,98.86 397.83,98.1 C396.46,97.34 393.5,96.01 391.06,94.99 C388.62,93.98 385.74,93.21 383.17,92.02 C380.61,90.84 377.87,89.22 375.68,87.87 C373.5,86.53 371.92,85.34 370.08,83.95 C368.25,82.57 366.49,78.12 364.69,79.54 C362.9,80.96 359.1,90.21 359.31,92.46Z"/><path d="M356.47,110.05 C356.51,112.34 361.09,110.9 363.76,111.69 C366.43,112.47 369.47,113.69 372.48,114.76 C375.49,115.84 378.66,116.94 381.82,118.16 C384.98,119.38 388.37,120.99 391.46,122.11 C394.55,123.22 398.54,124.42 400.35,124.86 C402.17,125.3 401.79,125.01 402.34,124.74 C402.89,124.47 403.46,123.83 403.66,123.25 C403.86,122.67 403.81,121.81 403.54,121.26 C403.27,120.71 403.71,120.7 402.05,119.94 C400.38,119.18 396.52,117.91 393.54,116.69 C390.56,115.48 387.18,114.05 384.18,112.64 C381.17,111.23 378.17,109.79 375.52,108.24 C372.86,106.68 370.24,105.03 368.24,103.31 C366.24,101.6 365.49,96.83 363.53,97.95 C361.57,99.08 356.43,107.76 356.47,110.05Z"/><path d="M357.21,46.85 C358.6,48.05 360.84,45.32 363.1,44.35 C365.36,43.37 368.2,41.85 370.75,41.01 C373.3,40.16 375.6,39.77 378.4,39.27 C381.2,38.77 385.76,38.35 387.57,37.99 C389.37,37.62 388.88,37.53 389.25,37.07 C389.62,36.61 389.85,35.82 389.79,35.23 C389.72,34.65 389.33,33.92 388.87,33.55 C388.41,33.18 388.91,32.99 387.03,33.01 C385.15,33.04 380.56,33.4 377.6,33.73 C374.64,34.06 372.03,34.51 369.25,34.99 C366.47,35.48 363.31,36.29 360.9,36.65 C358.49,37.01 355.4,35.45 354.79,37.15 C354.17,38.85 355.83,45.65 357.21,46.85Z"/><path d="M360.71,60.95 C362.08,62.18 365.12,59.2 367.55,58.46 C369.99,57.71 372.33,57.02 375.33,56.48 C378.33,55.94 383.59,55.54 385.55,55.19 C387.52,54.85 386.78,54.82 387.13,54.41 C387.49,54.01 387.73,53.29 387.69,52.75 C387.66,52.2 387.32,51.52 386.91,51.17 C386.51,50.81 387.29,50.68 385.25,50.61 C383.21,50.53 377.8,50.56 374.67,50.72 C371.54,50.88 369.01,51.49 366.45,51.54 C363.88,51.6 360.25,49.48 359.29,51.05 C358.34,52.62 359.33,59.72 360.71,60.95Z"/><path d="M345.98,114.01 C345.25,115.35 348.84,116.7 349.68,118.04 C350.53,119.38 350.65,121.11 351.06,122.04 C351.47,122.97 351.66,123.29 352.16,123.61 C352.65,123.93 353.47,124.07 354.04,123.94 C354.62,123.81 355.29,123.34 355.61,122.84 C355.93,122.35 355.99,122.1 355.94,120.96 C355.89,119.81 355.63,117.79 355.32,115.96 C355,114.13 355.58,110.31 354.02,109.99 C352.47,109.66 346.7,112.67 345.98,114.01Z"/></g>
<g fill="#a88ccc" filter="url(#blur05)"><path d="M282,33 C284.17,30.42 287.33,27.5 290,25.5 C292.67,23.5 295.5,21.98 298,21 C300.5,20.02 302.83,19.52 305,19.6 C307.17,19.68 308.87,20.78 311,21.5 C313.13,22.22 315.47,23.98 317.8,23.9 C320.13,23.82 322.63,21.38 325,21 C327.37,20.62 330.17,21.35 332,21.6 C333.83,21.85 334.8,21.92 336,22.5 C337.2,23.08 338.05,23.98 339.2,25.1 C340.35,26.22 341.37,28.9 342.9,29.2 C344.43,29.5 346.57,27.73 348.4,26.9 C350.23,26.07 352.22,24.35 353.9,24.2 C355.58,24.05 357.43,24.78 358.5,26 C359.57,27.22 359.88,29.5 360.3,31.5 C360.72,33.5 360.38,35.58 361,38 C361.62,40.42 363.25,43.17 364,46 C364.75,48.83 365,52.33 365.5,55 C366,57.67 366.17,59.83 367,62 C367.83,64.17 370,65.67 370.5,68 C371,70.33 370.25,73.33 370,76 C369.75,78.67 369.5,81.17 369,84 C368.5,86.83 367.83,89.67 367,93 C366.17,96.33 365.17,100.83 364,104 C362.83,107.17 362,109.75 360,112 C358,114.25 355.33,116.42 352,117.5 C348.67,118.58 343.67,118.5 340,118.5 C336.33,118.5 333.07,117.88 330,117.5 C326.93,117.12 324.93,116.62 321.6,116.2 C318.27,115.78 313.6,115.7 310,115 C306.4,114.3 303.33,113.17 300,112 C296.67,110.83 293.33,109.83 290,108 C286.67,106.17 282.83,103.67 280,101 C277.17,98.33 274.67,95.17 273,92 C271.33,88.83 270.57,85.17 270,82 C269.43,78.83 270.13,75.7 269.6,73 C269.07,70.3 267.35,68.13 266.8,65.8 C266.25,63.47 265.93,60.73 266.3,59 C266.67,57.27 267.88,56.9 269,55.4 C270.12,53.9 271.67,52.4 273,50 C274.33,47.6 275.5,43.83 277,41 C278.5,38.17 279.83,35.58 282,33Z"/><path d="M285.3,32.21 C283.24,31.51 280.83,36.14 278.3,37.6 C275.78,39.07 273.14,40.06 270.16,41 C267.18,41.94 263.5,42.48 260.43,43.26 C257.35,44.03 253.97,44.75 251.71,45.63 C249.46,46.5 247.87,47.78 246.88,48.49 C245.9,49.2 245.94,49.35 245.79,49.87 C245.64,50.39 245.73,51.14 245.99,51.62 C246.25,52.09 246.85,52.56 247.37,52.71 C247.89,52.86 248.13,52.9 249.12,52.51 C250.1,52.12 251.21,50.93 253.29,50.37 C255.36,49.81 258.48,49.57 261.57,49.14 C264.67,48.72 268.49,48.42 271.84,47.8 C275.19,47.17 278.55,46.4 281.7,45.4 C284.84,44.4 290.1,43.99 290.7,41.79 C291.3,39.6 287.37,32.9 285.3,32.21Z"/><path d="M274.47,74.41 C272.26,72.87 268.73,78.62 266.24,80.32 C263.76,82.01 261.83,83.33 259.58,84.58 C257.33,85.84 255.06,86.74 252.74,87.86 C250.42,88.98 248.01,90.09 245.66,91.32 C243.31,92.55 240.95,93.96 238.63,95.24 C236.31,96.53 233.82,97.87 231.72,99.01 C229.62,100.15 227.2,101.31 226.04,102.07 C224.87,102.84 224.93,103 224.73,103.58 C224.54,104.16 224.6,105.01 224.87,105.56 C225.15,106.11 225.8,106.67 226.38,106.87 C226.96,107.06 227.05,107.21 228.36,106.73 C229.68,106.25 232.12,105.05 234.28,103.99 C236.45,102.93 239.03,101.57 241.37,100.36 C243.71,99.14 246.03,97.79 248.34,96.68 C250.66,95.58 252.91,94.62 255.26,93.74 C257.61,92.86 260,92.09 262.42,91.42 C264.83,90.74 266.9,89.99 269.76,89.68 C272.61,89.38 278.74,92.13 279.53,89.59 C280.32,87.04 276.68,75.96 274.47,74.41Z"/><path d="M296.79,96.36 C294.15,95.22 288.44,101.07 285.41,102.79 C282.38,104.52 281.02,105.57 278.61,106.72 C276.2,107.86 273.53,108.78 270.96,109.66 C268.38,110.54 265.81,111.24 263.16,112.01 C260.51,112.77 257.28,113.47 255.07,114.24 C252.85,115.01 251,115.97 249.88,116.63 C248.75,117.29 248.57,117.57 248.32,118.2 C248.06,118.84 248.06,119.79 248.33,120.42 C248.59,121.05 249.27,121.73 249.9,121.98 C250.54,122.24 250.95,122.28 252.12,121.97 C253.29,121.67 254.81,120.75 256.93,120.16 C259.05,119.56 262.15,119.03 264.84,118.39 C267.52,117.76 270.28,117.13 273.04,116.34 C275.8,115.56 278.8,114.54 281.39,113.68 C283.98,112.83 285.29,111.88 288.59,111.21 C291.9,110.53 299.85,112.12 301.21,109.64 C302.58,107.17 299.42,97.5 296.79,96.36Z"/><path d="M303.17,107.28 C300.59,107.04 296.26,113.42 293.35,115.23 C290.44,117.04 288.08,117.05 285.72,118.15 C283.36,119.25 280.52,120.91 279.17,121.81 C277.83,122.71 277.89,122.86 277.66,123.53 C277.43,124.2 277.5,125.19 277.81,125.83 C278.12,126.46 278.86,127.11 279.53,127.34 C280.2,127.57 280.37,127.67 281.83,127.19 C283.28,126.71 285.81,125.32 288.28,124.45 C290.75,123.58 293.22,123.26 296.65,121.97 C300.07,120.68 307.74,119.16 308.83,116.72 C309.92,114.27 305.75,107.53 303.17,107.28Z"/><path d="M314.16,108.8 C312.26,108.94 311.59,113.94 310.46,116.06 C309.32,118.17 307.95,120.24 307.37,121.48 C306.78,122.72 306.83,122.88 306.95,123.51 C307.07,124.13 307.56,124.87 308.08,125.23 C308.61,125.59 309.48,125.77 310.11,125.65 C310.73,125.53 310.93,125.47 311.83,124.52 C312.74,123.57 313.88,121.5 315.54,119.94 C317.21,118.39 322.07,117.06 321.84,115.2 C321.61,113.34 316.06,108.66 314.16,108.8Z"/><path d="M359.31,92.46 C359.51,94.71 363.75,92.6 365.92,93.05 C368.08,93.49 369.83,94.31 372.32,95.13 C374.8,95.95 378.06,97.06 380.83,97.98 C383.6,98.89 386.45,99.75 388.94,100.61 C391.43,101.46 394.29,102.68 395.77,103.1 C397.26,103.51 397.25,103.34 397.84,103.09 C398.43,102.85 399.05,102.22 399.3,101.63 C399.54,101.04 399.54,100.15 399.29,99.56 C399.05,98.97 399.2,98.86 397.83,98.1 C396.46,97.34 393.5,96.01 391.06,94.99 C388.62,93.98 385.74,93.21 383.17,92.02 C380.61,90.84 377.87,89.22 375.68,87.87 C373.5,86.53 371.92,85.34 370.08,83.95 C368.25,82.57 366.49,78.12 364.69,79.54 C362.9,80.96 359.1,90.21 359.31,92.46Z"/><path d="M356.47,110.05 C356.51,112.34 361.09,110.9 363.76,111.69 C366.43,112.47 369.47,113.69 372.48,114.76 C375.49,115.84 378.66,116.94 381.82,118.16 C384.98,119.38 388.37,120.99 391.46,122.11 C394.55,123.22 398.54,124.42 400.35,124.86 C402.17,125.3 401.79,125.01 402.34,124.74 C402.89,124.47 403.46,123.83 403.66,123.25 C403.86,122.67 403.81,121.81 403.54,121.26 C403.27,120.71 403.71,120.7 402.05,119.94 C400.38,119.18 396.52,117.91 393.54,116.69 C390.56,115.48 387.18,114.05 384.18,112.64 C381.17,111.23 378.17,109.79 375.52,108.24 C372.86,106.68 370.24,105.03 368.24,103.31 C366.24,101.6 365.49,96.83 363.53,97.95 C361.57,99.08 356.43,107.76 356.47,110.05Z"/><path d="M357.21,46.85 C358.6,48.05 360.84,45.32 363.1,44.35 C365.36,43.37 368.2,41.85 370.75,41.01 C373.3,40.16 375.6,39.77 378.4,39.27 C381.2,38.77 385.76,38.35 387.57,37.99 C389.37,37.62 388.88,37.53 389.25,37.07 C389.62,36.61 389.85,35.82 389.79,35.23 C389.72,34.65 389.33,33.92 388.87,33.55 C388.41,33.18 388.91,32.99 387.03,33.01 C385.15,33.04 380.56,33.4 377.6,33.73 C374.64,34.06 372.03,34.51 369.25,34.99 C366.47,35.48 363.31,36.29 360.9,36.65 C358.49,37.01 355.4,35.45 354.79,37.15 C354.17,38.85 355.83,45.65 357.21,46.85Z"/><path d="M360.71,60.95 C362.08,62.18 365.12,59.2 367.55,58.46 C369.99,57.71 372.33,57.02 375.33,56.48 C378.33,55.94 383.59,55.54 385.55,55.19 C387.52,54.85 386.78,54.82 387.13,54.41 C387.49,54.01 387.73,53.29 387.69,52.75 C387.66,52.2 387.32,51.52 386.91,51.17 C386.51,50.81 387.29,50.68 385.25,50.61 C383.21,50.53 377.8,50.56 374.67,50.72 C371.54,50.88 369.01,51.49 366.45,51.54 C363.88,51.6 360.25,49.48 359.29,51.05 C358.34,52.62 359.33,59.72 360.71,60.95Z"/><path d="M345.98,114.01 C345.25,115.35 348.84,116.7 349.68,118.04 C350.53,119.38 350.65,121.11 351.06,122.04 C351.47,122.97 351.66,123.29 352.16,123.61 C352.65,123.93 353.47,124.07 354.04,123.94 C354.62,123.81 355.29,123.34 355.61,122.84 C355.93,122.35 355.99,122.1 355.94,120.96 C355.89,119.81 355.63,117.79 355.32,115.96 C355,114.13 355.58,110.31 354.02,109.99 C352.47,109.66 346.7,112.67 345.98,114.01Z"/></g>
<g filter="url(#blur1)"><path d="M280,41.5 C278.5,41.98 274.17,43.62 271,44.4 C267.83,45.18 264.08,45.6 261,46.2 C257.92,46.8 254.67,47.28 252.5,48 C250.33,48.72 248.75,50.08 248,50.5" fill="none" stroke="#c4a8dc" stroke-width="2.85" stroke-linecap="round" transform="translate(-0.2,-0.6)"/><path d="M268,85 C266.83,85.5 263.33,87.03 261,88 C258.67,88.97 256.33,89.8 254,90.8 C251.67,91.8 249.33,92.83 247,94 C244.67,95.17 242.33,96.55 240,97.8 C237.67,99.05 235.13,100.4 233,101.5 C230.87,102.6 228.17,103.92 227.2,104.4" fill="none" stroke="#c4a8dc" stroke-width="3.22" stroke-linecap="round" transform="translate(-0.2,-0.6)"/><path d="M287,107 C285.83,107.53 282.5,109.2 280,110.2 C277.5,111.2 274.67,112.17 272,113 C269.33,113.83 266.67,114.5 264,115.2 C261.33,115.9 258.17,116.52 256,117.2 C253.83,117.88 251.83,118.95 251,119.3" fill="none" stroke="#c4a8dc" stroke-width="3.6" stroke-linecap="round" transform="translate(-0.2,-0.6)"/><path d="M295,118.6 C293.67,119.05 289.42,120.32 287,121.3 C284.58,122.28 281.58,123.97 280.5,124.5" fill="none" stroke="#c4a8dc" stroke-width="3.72" stroke-linecap="round" transform="translate(-0.2,-0.6)"/><path d="M313,118 C312.43,118.83 310.17,122.17 309.6,123" fill="none" stroke="#c4a8dc" stroke-width="3.35" stroke-linecap="round" transform="translate(-0.2,-0.6)"/><path d="M368,88.5 C369,89 371.67,90.42 374,91.5 C376.33,92.58 379.33,93.95 382,95 C384.67,96.05 387.53,96.87 390,97.8 C392.47,98.73 395.67,100.13 396.8,100.6" fill="none" stroke="#c4a8dc" stroke-width="3.35" stroke-linecap="round" transform="translate(-0.2,-0.6)"/><path d="M366,107.5 C367.33,108.17 371.17,110.18 374,111.5 C376.83,112.82 379.92,114.08 383,115.4 C386.08,116.72 389.47,118.23 392.5,119.4 C395.53,120.57 399.75,121.9 401.2,122.4" fill="none" stroke="#c4a8dc" stroke-width="3.22" stroke-linecap="round" transform="translate(-0.2,-0.6)"/><path d="M362,40.5 C363.33,40.08 367.33,38.67 370,38 C372.67,37.33 375.12,36.92 378,36.5 C380.88,36.08 385.75,35.67 387.3,35.5" fill="none" stroke="#c4a8dc" stroke-width="3.1" stroke-linecap="round" transform="translate(-0.2,-0.6)"/><path d="M367,55 C368.33,54.77 371.93,53.95 375,53.6 C378.07,53.25 383.67,53.02 385.4,52.9" fill="none" stroke="#c4a8dc" stroke-width="2.85" stroke-linecap="round" transform="translate(-0.2,-0.6)"/><path d="M352.5,117 C352.67,117.75 353.33,120.75 353.5,121.5" fill="none" stroke="#c4a8dc" stroke-width="3.1" stroke-linecap="round" transform="translate(-0.2,-0.6)"/></g>
<path d="M287.18,38.04 C289.04,35.82 291.77,33.31 294.06,31.59 C296.35,29.87 298.79,28.57 300.94,27.72 C303.09,26.87 305.1,26.44 306.96,26.52 C308.82,26.59 310.29,27.53 312.12,28.15 C313.95,28.77 315.96,30.29 317.97,30.21 C319.97,30.14 322.12,28.05 324.16,27.72 C326.2,27.39 328.6,28.02 330.18,28.24 C331.76,28.45 332.59,28.51 333.62,29.01 C334.65,29.51 335.38,30.29 336.37,31.25 C337.36,32.21 338.24,34.51 339.55,34.77 C340.87,35.03 342.71,33.51 344.28,32.79 C345.86,32.08 347.57,30.6 349.01,30.47 C350.46,30.34 352.05,30.97 352.97,32.02 C353.89,33.07 354.16,35.03 354.52,36.75 C354.88,38.47 354.59,40.26 355.12,42.34 C355.65,44.42 357.06,46.78 357.7,49.22 C358.34,51.66 358.56,54.67 358.99,56.96 C359.42,59.25 359.56,61.12 360.28,62.98 C361,64.84 362.86,66.13 363.29,68.14 C363.72,70.15 363.08,72.73 362.86,75.02 C362.64,77.31 362.43,79.46 362,81.9 C361.57,84.34 361,86.77 360.28,89.64 C359.56,92.51 358.7,96.38 357.7,99.1 C356.7,101.82 355.98,104.04 354.26,105.98 C352.54,107.91 350.25,109.78 347.38,110.71 C344.51,111.64 340.21,111.57 337.06,111.57 C333.91,111.57 331.1,111.04 328.46,110.71 C325.82,110.38 324.1,109.95 321.24,109.59 C318.37,109.23 314.36,109.16 311.26,108.56 C308.16,107.96 305.53,106.98 302.66,105.98 C299.79,104.98 296.93,104.12 294.06,102.54 C291.19,100.96 287.9,98.81 285.46,96.52 C283.02,94.23 280.87,91.5 279.44,88.78 C278.01,86.06 277.35,82.9 276.86,80.18 C276.37,77.46 276.97,74.76 276.52,72.44 C276.06,70.12 274.58,68.25 274.11,66.25 C273.63,64.24 273.36,61.89 273.68,60.4 C273.99,58.91 275.04,58.59 276,57.3 C276.96,56.01 278.29,54.72 279.44,52.66 C280.59,50.6 281.59,47.36 282.88,44.92 C284.17,42.48 285.32,40.26 287.18,38.04Z" fill="#d0b4e0" filter="url(#blur2)"/>
<ellipse cx="316" cy="64" rx="34" ry="30" fill="#dcc4e8" opacity="0.7" filter="url(#blur3)"/>
<ellipse cx="300" cy="36" rx="13" ry="7" fill="#e6c8ee" opacity="0.75" filter="url(#blur3)"/>
<ellipse cx="296" cy="98" rx="16" ry="7" fill="#e2c0ea" opacity="0.65" filter="url(#blur3)"/>
<ellipse cx="353" cy="48" rx="6" ry="12" fill="#e2c0ea" opacity="0.55" filter="url(#blur3)"/>
<ellipse cx="340" cy="91" rx="19" ry="10" fill="#8a7ac4" opacity="0.6" filter="url(#blur3)" transform="rotate(-30 340 91)"/>
<path d="M286.1,76.3 C286.1,74.9 286.58,71.98 287.6,70.2 C288.62,68.42 290.92,67.38 292.2,65.6 C293.48,63.82 294.53,61.55 295.3,59.5 C296.07,57.45 296.03,54.97 296.8,53.3 C297.57,51.63 298.62,50.52 299.9,49.5 C301.18,48.48 302.98,47.83 304.5,47.2 C306.02,46.57 307.48,46.72 309,45.7 C310.52,44.68 312.07,42.12 313.6,41.1 C315.13,40.08 316.92,39.6 318.2,39.6 C319.48,39.6 320.67,40.08 321.3,41.1 C321.93,42.12 321.75,44.17 322,45.7 C322.25,47.23 321.9,49.78 322.8,50.3 C323.7,50.82 325.62,49.32 327.4,48.8 C329.18,48.28 331.58,47.2 333.5,47.2 C335.42,47.2 337.5,47.78 338.9,48.8 C340.3,49.82 341.52,51.52 341.9,53.3 C342.28,55.08 341.83,57.7 341.2,59.5 C340.57,61.3 339.63,62.83 338.1,64.1 C336.57,65.37 334.3,66.35 332,67.1 C329.7,67.85 326.6,68.22 324.3,68.6 C322,68.98 319.72,68.63 318.2,69.4 C316.68,70.17 316.22,71.8 315.2,73.2 C314.18,74.6 313.38,76.65 312.1,77.8 C310.82,78.95 309.53,79.58 307.5,80.1 C305.47,80.62 302.45,80.9 299.9,80.9 C297.35,80.9 294.25,80.48 292.2,80.1 C290.15,79.72 288.62,79.23 287.6,78.6 C286.58,77.97 286.1,77.7 286.1,76.3Z" fill="#8c6cc4" opacity="0.5" filter="url(#blur3)"/>
<path d="M286.1,76.3 C286.1,74.9 286.58,71.98 287.6,70.2 C288.62,68.42 290.92,67.38 292.2,65.6 C293.48,63.82 294.53,61.55 295.3,59.5 C296.07,57.45 296.03,54.97 296.8,53.3 C297.57,51.63 298.62,50.52 299.9,49.5 C301.18,48.48 302.98,47.83 304.5,47.2 C306.02,46.57 307.48,46.72 309,45.7 C310.52,44.68 312.07,42.12 313.6,41.1 C315.13,40.08 316.92,39.6 318.2,39.6 C319.48,39.6 320.67,40.08 321.3,41.1 C321.93,42.12 321.75,44.17 322,45.7 C322.25,47.23 321.9,49.78 322.8,50.3 C323.7,50.82 325.62,49.32 327.4,48.8 C329.18,48.28 331.58,47.2 333.5,47.2 C335.42,47.2 337.5,47.78 338.9,48.8 C340.3,49.82 341.52,51.52 341.9,53.3 C342.28,55.08 341.83,57.7 341.2,59.5 C340.57,61.3 339.63,62.83 338.1,64.1 C336.57,65.37 334.3,66.35 332,67.1 C329.7,67.85 326.6,68.22 324.3,68.6 C322,68.98 319.72,68.63 318.2,69.4 C316.68,70.17 316.22,71.8 315.2,73.2 C314.18,74.6 313.38,76.65 312.1,77.8 C310.82,78.95 309.53,79.58 307.5,80.1 C305.47,80.62 302.45,80.9 299.9,80.9 C297.35,80.9 294.25,80.48 292.2,80.1 C290.15,79.72 288.62,79.23 287.6,78.6 C286.58,77.97 286.1,77.7 286.1,76.3Z" fill="#7650b0" filter="url(#blur1)"/>
<ellipse cx="302" cy="64" rx="8" ry="9" fill="#623c9c" opacity="0.75" filter="url(#blur2)"/>
<ellipse cx="318" cy="48" rx="4" ry="5" fill="#643e9e" opacity="0.6" filter="url(#blur2)"/>
<ellipse cx="293.5" cy="74.8" rx="4.5" ry="3" fill="#9c78cc" opacity="0.6" filter="url(#blur2)"/>
<ellipse cx="316.5" cy="64" rx="5.5" ry="2.8" fill="#9a78ca" opacity="0.6" filter="url(#blur2)"/>
<ellipse cx="332" cy="55" rx="4.5" ry="3" fill="#a482d0" opacity="0.6" filter="url(#blur2)"/>
<ellipse cx="310" cy="40" rx="8" ry="4" fill="#f0d8f2" opacity="0.7" filter="url(#blur2)"/>
</g>
<g fill="#4a2c6c" opacity="0.8" filter="url(#blur05)"><circle cx="289.93" cy="46.96" r="0.9"/><circle cx="291.43" cy="46.45" r="0.9"/><circle cx="290.09" cy="47.2" r="0.9"/><circle cx="296.99" cy="45.03" r="0.9"/><circle cx="296.02" cy="44.37" r="0.9"/><circle cx="277.41" cy="67.69" r="0.9"/><circle cx="279.27" cy="66.97" r="0.9"/><circle cx="279.94" cy="67.36" r="0.9"/><circle cx="282.14" cy="69.9" r="0.9"/><circle cx="284.59" cy="71.57" r="0.9"/><circle cx="296.2" cy="87.28" r="0.9"/><circle cx="293.51" cy="86.59" r="0.9"/><circle cx="299.99" cy="88.08" r="0.9"/><circle cx="301.45" cy="88.68" r="0.9"/><circle cx="298.9" cy="89.76" r="0.9"/><circle cx="304.8" cy="91.03" r="0.9"/><circle cx="305.85" cy="90.12" r="0.9"/><circle cx="311.5" cy="90.96" r="0.9"/><circle cx="311" cy="89.89" r="0.9"/><circle cx="313.17" cy="90.36" r="0.9"/><circle cx="318.9" cy="91.3" r="0.9"/><circle cx="319.5" cy="92.95" r="0.9"/><circle cx="322.82" cy="76.63" r="0.9"/><circle cx="322.26" cy="76.55" r="0.9"/><circle cx="325.79" cy="77.94" r="0.9"/><circle cx="328.05" cy="77.28" r="0.9"/><circle cx="328.35" cy="78.93" r="0.9"/><circle cx="332.71" cy="75.68" r="0.9"/><circle cx="332.84" cy="75.73" r="0.9"/><circle cx="340.58" cy="76.73" r="0.9"/><circle cx="337.49" cy="76.02" r="0.9"/><circle cx="339.7" cy="78.18" r="0.9"/><circle cx="343.99" cy="72.98" r="0.9"/><circle cx="344.16" cy="73.6" r="0.9"/><circle cx="346.11" cy="63.26" r="0.9"/><circle cx="347.18" cy="63.29" r="0.9"/><circle cx="345.98" cy="62.21" r="0.9"/><circle cx="348.51" cy="59.02" r="0.9"/><circle cx="348.51" cy="58.23" r="0.9"/><circle cx="332.38" cy="104.05" r="0.9"/><circle cx="331.61" cy="105.75" r="0.9"/><circle cx="333.89" cy="104.7" r="0.9"/><circle cx="339.59" cy="106.42" r="0.9"/><circle cx="340.28" cy="107.1" r="0.9"/><circle cx="304.7" cy="37.17" r="0.9"/><circle cx="306.48" cy="36.22" r="0.9"/><circle cx="313.23" cy="33.98" r="0.9"/><circle cx="311.6" cy="33.39" r="0.9"/><circle cx="347.2" cy="89.19" r="0.9"/><circle cx="344.62" cy="90.73" r="0.9"/></g>
<g transform="translate(424,50.5) rotate(8)"><path d="M-7.4,0 C-7.03,-3.61 4.07,-3.61 7.4,0 C4.07,3.61 -7.03,3.61 -7.4,0Z" fill="#e4ddf0" opacity="0.55" filter="url(#blur1)" transform="translate(-0.6,-0.6) scale(1.12)"/><path d="M-7.4,0 C-7.03,-3.61 4.07,-3.61 7.4,0 C4.07,3.61 -7.03,3.61 -7.4,0Z" fill="#ab9ccc" opacity="0.6" filter="url(#blur12)" transform="translate(1.8,1.5)"/><path d="M-7.4,0 C-7.03,-3.61 4.07,-3.61 7.4,0 C4.07,3.61 -7.03,3.61 -7.4,0Z" fill="url(#plg)"/></g>
<g transform="translate(462,48.3) rotate(-5)"><path d="M-7.4,0 C-7.03,-3.61 4.07,-3.61 7.4,0 C4.07,3.61 -7.03,3.61 -7.4,0Z" fill="#e4ddf0" opacity="0.55" filter="url(#blur1)" transform="translate(-0.6,-0.6) scale(1.12)"/><path d="M-7.4,0 C-7.03,-3.61 4.07,-3.61 7.4,0 C4.07,3.61 -7.03,3.61 -7.4,0Z" fill="#ab9ccc" opacity="0.6" filter="url(#blur12)" transform="translate(1.8,1.5)"/><path d="M-7.4,0 C-7.03,-3.61 4.07,-3.61 7.4,0 C4.07,3.61 -7.03,3.61 -7.4,0Z" fill="url(#plg)"/></g>
<g transform="translate(494.2,48.9) rotate(5)"><path d="M-7.4,0 C-7.03,-3.61 4.07,-3.61 7.4,0 C4.07,3.61 -7.03,3.61 -7.4,0Z" fill="#e4ddf0" opacity="0.55" filter="url(#blur1)" transform="translate(-0.6,-0.6) scale(1.12)"/><path d="M-7.4,0 C-7.03,-3.61 4.07,-3.61 7.4,0 C4.07,3.61 -7.03,3.61 -7.4,0Z" fill="#ab9ccc" opacity="0.6" filter="url(#blur12)" transform="translate(1.8,1.5)"/><path d="M-7.4,0 C-7.03,-3.61 4.07,-3.61 7.4,0 C4.07,3.61 -7.03,3.61 -7.4,0Z" fill="url(#plg)"/></g>
<g transform="translate(440,54.8) rotate(-15)"><path d="M-8,0 C-7.6,-3.91 4.4,-3.91 8,0 C4.4,3.91 -7.6,3.91 -8,0Z" fill="#e4ddf0" opacity="0.55" filter="url(#blur1)" transform="translate(-0.6,-0.6) scale(1.12)"/><path d="M-8,0 C-7.6,-3.91 4.4,-3.91 8,0 C4.4,3.91 -7.6,3.91 -8,0Z" fill="#ab9ccc" opacity="0.6" filter="url(#blur12)" transform="translate(1.8,1.5)"/><path d="M-8,0 C-7.6,-3.91 4.4,-3.91 8,0 C4.4,3.91 -7.6,3.91 -8,0Z" fill="url(#plg)"/></g>
<g transform="translate(472.6,56) rotate(-15)"><path d="M-8,0 C-7.6,-3.91 4.4,-3.91 8,0 C4.4,3.91 -7.6,3.91 -8,0Z" fill="#e4ddf0" opacity="0.55" filter="url(#blur1)" transform="translate(-0.6,-0.6) scale(1.12)"/><path d="M-8,0 C-7.6,-3.91 4.4,-3.91 8,0 C4.4,3.91 -7.6,3.91 -8,0Z" fill="#ab9ccc" opacity="0.6" filter="url(#blur12)" transform="translate(1.8,1.5)"/><path d="M-8,0 C-7.6,-3.91 4.4,-3.91 8,0 C4.4,3.91 -7.6,3.91 -8,0Z" fill="url(#plg)"/></g>
<g transform="translate(435.8,65.5) rotate(5)"><path d="M-8.2,0 C-7.79,-4 4.51,-4 8.2,0 C4.51,4 -7.79,4 -8.2,0Z" fill="#e4ddf0" opacity="0.55" filter="url(#blur1)" transform="translate(-0.6,-0.6) scale(1.12)"/><path d="M-8.2,0 C-7.79,-4 4.51,-4 8.2,0 C4.51,4 -7.79,4 -8.2,0Z" fill="#ab9ccc" opacity="0.6" filter="url(#blur12)" transform="translate(1.8,1.5)"/><path d="M-8.2,0 C-7.79,-4 4.51,-4 8.2,0 C4.51,4 -7.79,4 -8.2,0Z" fill="url(#plg)"/></g>
<g transform="translate(454.5,62.2) rotate(15)"><path d="M-6.8,0 C-6.46,-3.32 3.74,-3.32 6.8,0 C3.74,3.32 -6.46,3.32 -6.8,0Z" fill="#e4ddf0" opacity="0.55" filter="url(#blur1)" transform="translate(-0.6,-0.6) scale(1.12)"/><path d="M-6.8,0 C-6.46,-3.32 3.74,-3.32 6.8,0 C3.74,3.32 -6.46,3.32 -6.8,0Z" fill="#ab9ccc" opacity="0.6" filter="url(#blur12)" transform="translate(1.8,1.5)"/><path d="M-6.8,0 C-6.46,-3.32 3.74,-3.32 6.8,0 C3.74,3.32 -6.46,3.32 -6.8,0Z" fill="url(#plg)"/></g>
<g transform="translate(488.4,63.8) rotate(15)"><path d="M-7.2,0 C-6.84,-3.52 3.96,-3.52 7.2,0 C3.96,3.52 -6.84,3.52 -7.2,0Z" fill="#e4ddf0" opacity="0.55" filter="url(#blur1)" transform="translate(-0.6,-0.6) scale(1.12)"/><path d="M-7.2,0 C-6.84,-3.52 3.96,-3.52 7.2,0 C3.96,3.52 -6.84,3.52 -7.2,0Z" fill="#ab9ccc" opacity="0.6" filter="url(#blur12)" transform="translate(1.8,1.5)"/><path d="M-7.2,0 C-6.84,-3.52 3.96,-3.52 7.2,0 C3.96,3.52 -6.84,3.52 -7.2,0Z" fill="url(#plg)"/></g>
<g transform="translate(471.4,69.8) rotate(-5)"><path d="M-7.8,0 C-7.41,-3.81 4.29,-3.81 7.8,0 C4.29,3.81 -7.41,3.81 -7.8,0Z" fill="#e4ddf0" opacity="0.55" filter="url(#blur1)" transform="translate(-0.6,-0.6) scale(1.12)"/><path d="M-7.8,0 C-7.41,-3.81 4.29,-3.81 7.8,0 C4.29,3.81 -7.41,3.81 -7.8,0Z" fill="#ab9ccc" opacity="0.6" filter="url(#blur12)" transform="translate(1.8,1.5)"/><path d="M-7.8,0 C-7.41,-3.81 4.29,-3.81 7.8,0 C4.29,3.81 -7.41,3.81 -7.8,0Z" fill="url(#plg)"/></g>
<g transform="translate(448,74.3) rotate(-15)"><path d="M-8,0 C-7.6,-3.91 4.4,-3.91 8,0 C4.4,3.91 -7.6,3.91 -8,0Z" fill="#e4ddf0" opacity="0.55" filter="url(#blur1)" transform="translate(-0.6,-0.6) scale(1.12)"/><path d="M-8,0 C-7.6,-3.91 4.4,-3.91 8,0 C4.4,3.91 -7.6,3.91 -8,0Z" fill="#ab9ccc" opacity="0.6" filter="url(#blur12)" transform="translate(1.8,1.5)"/><path d="M-8,0 C-7.6,-3.91 4.4,-3.91 8,0 C4.4,3.91 -7.6,3.91 -8,0Z" fill="url(#plg)"/></g>
<g transform="translate(430.4,80.4) rotate(15)"><path d="M-7,0 C-6.65,-3.42 3.85,-3.42 7,0 C3.85,3.42 -6.65,3.42 -7,0Z" fill="#e4ddf0" opacity="0.55" filter="url(#blur1)" transform="translate(-0.6,-0.6) scale(1.12)"/><path d="M-7,0 C-6.65,-3.42 3.85,-3.42 7,0 C3.85,3.42 -6.65,3.42 -7,0Z" fill="#ab9ccc" opacity="0.6" filter="url(#blur12)" transform="translate(1.8,1.5)"/><path d="M-7,0 C-6.65,-3.42 3.85,-3.42 7,0 C3.85,3.42 -6.65,3.42 -7,0Z" fill="url(#plg)"/></g>
<g transform="translate(483.2,77.8) rotate(-15)"><path d="M-7.8,0 C-7.41,-3.81 4.29,-3.81 7.8,0 C4.29,3.81 -7.41,3.81 -7.8,0Z" fill="#e4ddf0" opacity="0.55" filter="url(#blur1)" transform="translate(-0.6,-0.6) scale(1.12)"/><path d="M-7.8,0 C-7.41,-3.81 4.29,-3.81 7.8,0 C4.29,3.81 -7.41,3.81 -7.8,0Z" fill="#ab9ccc" opacity="0.6" filter="url(#blur12)" transform="translate(1.8,1.5)"/><path d="M-7.8,0 C-7.41,-3.81 4.29,-3.81 7.8,0 C4.29,3.81 -7.41,3.81 -7.8,0Z" fill="url(#plg)"/></g>
<g transform="translate(465,84.2) rotate(15)"><path d="M-7,0 C-6.65,-3.42 3.85,-3.42 7,0 C3.85,3.42 -6.65,3.42 -7,0Z" fill="#e4ddf0" opacity="0.55" filter="url(#blur1)" transform="translate(-0.6,-0.6) scale(1.12)"/><path d="M-7,0 C-6.65,-3.42 3.85,-3.42 7,0 C3.85,3.42 -6.65,3.42 -7,0Z" fill="#ab9ccc" opacity="0.6" filter="url(#blur12)" transform="translate(1.8,1.5)"/><path d="M-7,0 C-6.65,-3.42 3.85,-3.42 7,0 C3.85,3.42 -6.65,3.42 -7,0Z" fill="url(#plg)"/></g>
<g transform="translate(499.2,84.3) rotate(-15)"><path d="M-8,0 C-7.6,-3.91 4.4,-3.91 8,0 C4.4,3.91 -7.6,3.91 -8,0Z" fill="#e4ddf0" opacity="0.55" filter="url(#blur1)" transform="translate(-0.6,-0.6) scale(1.12)"/><path d="M-8,0 C-7.6,-3.91 4.4,-3.91 8,0 C4.4,3.91 -7.6,3.91 -8,0Z" fill="#ab9ccc" opacity="0.6" filter="url(#blur12)" transform="translate(1.8,1.5)"/><path d="M-8,0 C-7.6,-3.91 4.4,-3.91 8,0 C4.4,3.91 -7.6,3.91 -8,0Z" fill="url(#plg)"/></g>
<g transform="translate(444.7,91.7) rotate(-5)"><path d="M-8.2,0 C-7.79,-4 4.51,-4 8.2,0 C4.51,4 -7.79,4 -8.2,0Z" fill="#e4ddf0" opacity="0.55" filter="url(#blur1)" transform="translate(-0.6,-0.6) scale(1.12)"/><path d="M-8.2,0 C-7.79,-4 4.51,-4 8.2,0 C4.51,4 -7.79,4 -8.2,0Z" fill="#ab9ccc" opacity="0.6" filter="url(#blur12)" transform="translate(1.8,1.5)"/><path d="M-8.2,0 C-7.79,-4 4.51,-4 8.2,0 C4.51,4 -7.79,4 -8.2,0Z" fill="url(#plg)"/></g>
<g transform="translate(477,95) rotate(-5)"><path d="M-8.2,0 C-7.79,-4 4.51,-4 8.2,0 C4.51,4 -7.79,4 -8.2,0Z" fill="#e4ddf0" opacity="0.55" filter="url(#blur1)" transform="translate(-0.6,-0.6) scale(1.12)"/><path d="M-8.2,0 C-7.79,-4 4.51,-4 8.2,0 C4.51,4 -7.79,4 -8.2,0Z" fill="#ab9ccc" opacity="0.6" filter="url(#blur12)" transform="translate(1.8,1.5)"/><path d="M-8.2,0 C-7.79,-4 4.51,-4 8.2,0 C4.51,4 -7.79,4 -8.2,0Z" fill="url(#plg)"/></g>
<g transform="translate(456.4,99.9) rotate(-12)"><path d="M-8.2,0 C-7.79,-4 4.51,-4 8.2,0 C4.51,4 -7.79,4 -8.2,0Z" fill="#e4ddf0" opacity="0.55" filter="url(#blur1)" transform="translate(-0.6,-0.6) scale(1.12)"/><path d="M-8.2,0 C-7.79,-4 4.51,-4 8.2,0 C4.51,4 -7.79,4 -8.2,0Z" fill="#ab9ccc" opacity="0.6" filter="url(#blur12)" transform="translate(1.8,1.5)"/><path d="M-8.2,0 C-7.79,-4 4.51,-4 8.2,0 C4.51,4 -7.79,4 -8.2,0Z" fill="url(#plg)"/></g>
<g transform="translate(438.6,105.9) rotate(10)"><path d="M-7.2,0 C-6.84,-3.52 3.96,-3.52 7.2,0 C3.96,3.52 -6.84,3.52 -7.2,0Z" fill="#e4ddf0" opacity="0.55" filter="url(#blur1)" transform="translate(-0.6,-0.6) scale(1.12)"/><path d="M-7.2,0 C-6.84,-3.52 3.96,-3.52 7.2,0 C3.96,3.52 -6.84,3.52 -7.2,0Z" fill="#ab9ccc" opacity="0.6" filter="url(#blur12)" transform="translate(1.8,1.5)"/><path d="M-7.2,0 C-6.84,-3.52 3.96,-3.52 7.2,0 C3.96,3.52 -6.84,3.52 -7.2,0Z" fill="url(#plg)"/></g>
<path d="M157.8,146.9 L169.4,143 L169.4,144.8 L345.2,144.8 L345.2,143 L357.3,146.9 L345.2,150.8 L345.2,149 L169.4,149 L169.4,150.8 Z" fill="#a6304c"/>
<path d="M2.2,166.95 L14.6,163.15 L14.6,164.9 L210.6,164.9 L210.6,163.15 L222.1,166.95 L210.6,170.75 L210.6,169 L14.6,169 L14.6,170.75 Z" fill="#2f72ab"/>
<text x="253.6" y="142.6" font-family="Liberation Sans, sans-serif" font-weight="bold" font-size="12.6" fill="#8c1e34">B</text>
<text x="109.9" y="162.5" font-family="Liberation Sans, sans-serif" font-weight="bold" font-size="13" fill="#3574b0">A</text>
<text x="10.1" y="197.4" font-family="Liberation Sans, sans-serif" font-weight="bold" font-size="12.6" fill="#3a72b0">(A)</text>
<text x="260.4" y="199.4" font-family="Liberation Sans, sans-serif" font-weight="bold" font-size="13" fill="#8c2038">(B)</text>
<rect x="28" y="185.2" width="170.4" height="129.4" fill="#d6dde3" filter="url(#blur05)"/>
<rect x="30.3" y="187.5" width="165.5" height="124.7" fill="#fcfcfc" stroke="#e4e8ec" stroke-width="0.6"/>
<g stroke="#d8d8d8" stroke-width="0.5"><line x1="52.3" y1="280.75" x2="157.4" y2="280.75"/><line x1="52.3" y1="271.9" x2="157.4" y2="271.9"/><line x1="52.3" y1="263.05" x2="157.4" y2="263.05"/><line x1="52.3" y1="254.2" x2="157.4" y2="254.2"/><line x1="52.3" y1="245.35" x2="157.4" y2="245.35"/><line x1="52.3" y1="236.5" x2="157.4" y2="236.5"/><line x1="52.3" y1="227.65" x2="157.4" y2="227.65"/><line x1="52.3" y1="218.8" x2="157.4" y2="218.8"/><line x1="52.3" y1="209.95" x2="157.4" y2="209.95"/><line x1="73.32" y1="201.1" x2="73.32" y2="289.6"/><line x1="94.34" y1="201.1" x2="94.34" y2="289.6"/><line x1="115.36" y1="201.1" x2="115.36" y2="289.6"/><line x1="136.38" y1="201.1" x2="136.38" y2="289.6"/></g>
<rect x="52.3" y="201.1" width="105.1" height="88.5" fill="none" stroke="#c8c8c8" stroke-width="0.6"/>
<g font-family="Liberation Sans, sans-serif" font-size="4.3" fill="#707070" text-anchor="middle"><text x="62.81" y="207.8">DAY 0</text><text x="83.83" y="207.8">DAY 1</text><text x="104.85" y="207.8">DAY 2</text><text x="125.87" y="207.8">DAY 3</text><text x="146.89" y="207.8">DAY 4</text></g>
<g><rect x="53.18" y="284.27" width="0.74" height="5.33" fill="#bababa"/><rect x="54.05" y="283.97" width="0.74" height="5.63" fill="#bababa"/><rect x="54.93" y="283.77" width="0.74" height="5.83" fill="#bababa"/><rect x="55.8" y="283.31" width="0.74" height="6.29" fill="#bababa"/><rect x="56.68" y="283.7" width="0.74" height="5.9" fill="#bababa"/><rect x="57.55" y="283.12" width="0.74" height="6.48" fill="#bababa"/><rect x="58.43" y="285.08" width="0.74" height="4.52" fill="#bababa"/><rect x="59.31" y="284.19" width="0.74" height="5.41" fill="#bababa"/><rect x="60.18" y="282.69" width="0.74" height="6.91" fill="#bababa"/><rect x="61.06" y="283.54" width="0.74" height="6.06" fill="#bababa"/><rect x="61.93" y="282.59" width="0.74" height="7.01" fill="#bababa"/><rect x="62.81" y="284.92" width="0.74" height="4.68" fill="#bababa"/><rect x="63.69" y="283.92" width="0.74" height="5.68" fill="#bababa"/><rect x="64.56" y="284.57" width="0.74" height="5.03" fill="#bababa"/><rect x="65.44" y="283.55" width="0.74" height="6.05" fill="#bababa"/><rect x="77.7" y="287.47" width="0.74" height="2.13" fill="#bababa"/><rect x="78.58" y="285.61" width="0.74" height="3.99" fill="#bababa"/><rect x="79.45" y="285.93" width="0.74" height="3.67" fill="#bababa"/><rect x="80.33" y="288.65" width="0.74" height="0.95" fill="#bababa"/><rect x="81.2" y="284.9" width="0.74" height="4.7" fill="#bababa"/><rect x="82.08" y="284.12" width="0.74" height="5.48" fill="#bababa"/><rect x="82.95" y="284.13" width="0.74" height="5.47" fill="#bababa"/><rect x="83.83" y="280.61" width="0.74" height="8.99" fill="#bababa"/><rect x="84.71" y="283.96" width="0.74" height="5.64" fill="#bababa"/><rect x="85.58" y="281.25" width="0.74" height="8.35" fill="#bababa"/><rect x="86.46" y="283.77" width="0.74" height="5.83" fill="#bababa"/><rect x="87.33" y="284.07" width="0.74" height="5.53" fill="#bababa"/><rect x="88.21" y="278.64" width="0.74" height="10.96" fill="#bababa"/><rect x="89.09" y="283" width="0.74" height="6.6" fill="#bababa"/><rect x="89.96" y="282.84" width="0.74" height="6.76" fill="#bababa"/><rect x="90.84" y="276.75" width="0.74" height="12.85" fill="#bababa"/><rect x="91.71" y="277.44" width="0.74" height="12.16" fill="#bababa"/><rect x="92.59" y="281.96" width="0.74" height="7.64" fill="#bababa"/><rect x="93.46" y="275.96" width="0.74" height="13.64" fill="#bababa"/><rect x="94.34" y="279.67" width="0.74" height="9.93" fill="#bababa"/><rect x="95.22" y="278.18" width="0.74" height="11.42" fill="#bababa"/><rect x="96.09" y="281.97" width="0.74" height="7.63" fill="#bababa"/><rect x="96.97" y="274.56" width="0.74" height="15.04" fill="#bababa"/><rect x="97.84" y="276.9" width="0.74" height="12.7" fill="#bababa"/><rect x="98.72" y="273" width="0.74" height="16.6" fill="#bababa"/><rect x="99.59" y="273.36" width="0.74" height="16.24" fill="#bababa"/><rect x="100.47" y="280.16" width="0.74" height="9.44" fill="#bababa"/><rect x="101.35" y="279.23" width="0.74" height="10.37" fill="#bababa"/><rect x="102.22" y="280.85" width="0.74" height="8.75" fill="#bababa"/><rect x="103.1" y="280.75" width="0.74" height="8.85" fill="#bababa"/><rect x="103.97" y="281.08" width="0.74" height="8.52" fill="#bababa"/><rect x="104.85" y="278.73" width="0.74" height="10.87" fill="#bababa"/><rect x="105.73" y="274.89" width="0.74" height="14.71" fill="#bababa"/><rect x="106.6" y="280.61" width="0.74" height="8.99" fill="#bababa"/><rect x="107.48" y="273.27" width="0.74" height="16.33" fill="#bababa"/><rect x="108.35" y="277.21" width="0.74" height="12.39" fill="#bababa"/><rect x="109.23" y="277.23" width="0.74" height="12.37" fill="#bababa"/><rect x="110.1" y="270.25" width="0.74" height="19.35" fill="#bababa"/><rect x="110.98" y="274.21" width="0.74" height="15.39" fill="#bababa"/><rect x="111.86" y="275.6" width="0.74" height="14" fill="#bababa"/><rect x="112.73" y="272.86" width="0.74" height="16.74" fill="#bababa"/><rect x="113.61" y="268.87" width="0.74" height="20.73" fill="#bababa"/><rect x="114.48" y="276.47" width="0.74" height="13.13" fill="#bababa"/><rect x="115.36" y="262.69" width="0.74" height="26.91" fill="#bababa"/><rect x="116.24" y="275.6" width="0.74" height="14" fill="#bababa"/><rect x="117.11" y="265.07" width="0.74" height="24.53" fill="#bababa"/><rect x="117.99" y="262.56" width="0.74" height="27.04" fill="#bababa"/><rect x="118.86" y="273.01" width="0.74" height="16.59" fill="#bababa"/><rect x="119.74" y="262.36" width="0.74" height="27.24" fill="#bababa"/><rect x="120.61" y="266.96" width="0.74" height="22.64" fill="#bababa"/><rect x="121.49" y="263.55" width="0.74" height="26.05" fill="#bababa"/><rect x="122.37" y="267.12" width="0.74" height="22.48" fill="#bababa"/><rect x="123.24" y="265.89" width="0.74" height="23.71" fill="#bababa"/><rect x="124.12" y="264.14" width="0.74" height="25.46" fill="#bababa"/><rect x="124.99" y="257.03" width="0.74" height="32.57" fill="#bababa"/><rect x="125.87" y="261.91" width="0.74" height="27.69" fill="#bababa"/><rect x="126.75" y="257.05" width="0.74" height="32.55" fill="#bababa"/><rect x="127.62" y="254.65" width="0.74" height="34.95" fill="#bababa"/><rect x="128.5" y="253.67" width="0.74" height="35.93" fill="#bababa"/><rect x="129.37" y="258.11" width="0.74" height="31.49" fill="#bababa"/><rect x="130.25" y="257.59" width="0.74" height="32.01" fill="#bababa"/><rect x="131.12" y="256.39" width="0.74" height="33.21" fill="#bababa"/><rect x="132" y="254.14" width="0.74" height="35.46" fill="#bababa"/><rect x="132.88" y="260.07" width="0.74" height="29.53" fill="#bababa"/><rect x="133.75" y="254.69" width="0.74" height="34.91" fill="#bababa"/><rect x="134.63" y="254.29" width="0.74" height="35.31" fill="#bababa"/><rect x="135.5" y="253.69" width="0.74" height="35.91" fill="#bababa"/><rect x="136.38" y="261.75" width="0.74" height="27.85" fill="#bababa"/><rect x="137.26" y="252.86" width="0.74" height="36.74" fill="#bababa"/><rect x="138.13" y="262.71" width="0.74" height="26.89" fill="#bababa"/><rect x="139.01" y="261" width="0.74" height="28.6" fill="#bababa"/><rect x="139.88" y="258.1" width="0.74" height="31.5" fill="#bababa"/><rect x="140.76" y="253.7" width="0.74" height="35.9" fill="#bababa"/><rect x="141.63" y="261.86" width="0.74" height="27.74" fill="#bababa"/><rect x="142.51" y="253.75" width="0.74" height="35.85" fill="#bababa"/><rect x="143.39" y="259.51" width="0.74" height="30.09" fill="#bababa"/><rect x="144.26" y="262.63" width="0.74" height="26.97" fill="#bababa"/><rect x="145.14" y="262.73" width="0.74" height="26.87" fill="#bababa"/><rect x="146.01" y="264.43" width="0.74" height="25.17" fill="#bababa"/><rect x="146.89" y="265.5" width="0.74" height="24.1" fill="#bababa"/><rect x="147.77" y="265.04" width="0.74" height="24.56" fill="#bababa"/><rect x="148.64" y="258.1" width="0.74" height="31.5" fill="#bababa"/><rect x="149.52" y="253.1" width="0.74" height="36.5" fill="#bababa"/><rect x="150.39" y="265.29" width="0.74" height="24.31" fill="#bababa"/><rect x="151.27" y="266.16" width="0.74" height="23.44" fill="#bababa"/><rect x="152.14" y="253.47" width="0.74" height="36.13" fill="#bababa"/><rect x="153.02" y="260.48" width="0.74" height="29.12" fill="#bababa"/><rect x="153.9" y="262.12" width="0.74" height="27.48" fill="#bababa"/><rect x="154.77" y="263.99" width="0.74" height="25.61" fill="#bababa"/><rect x="155.65" y="259.55" width="0.74" height="30.05" fill="#bababa"/><rect x="156.52" y="256.22" width="0.74" height="33.38" fill="#bababa"/><rect x="60.56" y="280.6" width="0.83" height="9" fill="#a8a8a8"/><rect x="62.56" y="280.6" width="0.83" height="9" fill="#a8a8a8"/><rect x="65.96" y="276.1" width="0.83" height="13.5" fill="#a8a8a8"/><rect x="83.66" y="276.1" width="0.83" height="13.5" fill="#a8a8a8"/><rect x="87.56" y="276.1" width="0.83" height="13.5" fill="#a8a8a8"/><rect x="89.06" y="277.6" width="0.83" height="12" fill="#a8a8a8"/><rect x="91.36" y="276.1" width="0.83" height="13.5" fill="#a8a8a8"/><rect x="92.66" y="280.6" width="0.83" height="9" fill="#a8a8a8"/><rect x="95.86" y="267.6" width="0.83" height="22" fill="#a8a8a8"/><rect x="97.06" y="269.6" width="0.83" height="20" fill="#a8a8a8"/><rect x="98.46" y="253.6" width="0.83" height="36" fill="#a8a8a8"/><rect x="101.06" y="271" width="0.83" height="18.6" fill="#a8a8a8"/><rect x="103.36" y="271.6" width="0.83" height="18" fill="#a8a8a8"/><rect x="105.86" y="263.6" width="0.83" height="26" fill="#a8a8a8"/><rect x="106.76" y="262.6" width="0.83" height="27" fill="#a8a8a8"/><rect x="111.86" y="262.6" width="0.83" height="27" fill="#a8a8a8"/><rect x="115.06" y="255.6" width="0.83" height="34" fill="#a8a8a8"/><rect x="116.16" y="250.6" width="0.83" height="39" fill="#a8a8a8"/><rect x="117.56" y="249.6" width="0.83" height="40" fill="#a8a8a8"/><rect x="120.26" y="257.6" width="0.83" height="32" fill="#a8a8a8"/><rect x="122.26" y="260.6" width="0.83" height="29" fill="#a8a8a8"/><rect x="123.16" y="253.1" width="0.83" height="36.5" fill="#a8a8a8"/><rect x="125.26" y="248.6" width="0.83" height="41" fill="#a8a8a8"/><rect x="126.56" y="247" width="0.83" height="42.6" fill="#a8a8a8"/><rect x="127.56" y="250.6" width="0.83" height="39" fill="#a8a8a8"/><rect x="129.16" y="248.6" width="0.83" height="41" fill="#a8a8a8"/><rect x="130.16" y="214.1" width="0.83" height="75.5" fill="#a8a8a8"/><rect x="131.06" y="234.6" width="0.83" height="55" fill="#a8a8a8"/><rect x="133.46" y="237.1" width="0.83" height="52.5" fill="#a8a8a8"/><rect x="135.86" y="245.6" width="0.83" height="44" fill="#a8a8a8"/><rect x="138.56" y="245.6" width="0.83" height="44" fill="#a8a8a8"/><rect x="139.76" y="245.6" width="0.83" height="44" fill="#a8a8a8"/><rect x="140.76" y="251.6" width="0.83" height="38" fill="#a8a8a8"/><rect x="142.26" y="247" width="0.83" height="42.6" fill="#a8a8a8"/><rect x="143.76" y="244.6" width="0.83" height="45" fill="#a8a8a8"/><rect x="145.76" y="248.6" width="0.83" height="41" fill="#a8a8a8"/><rect x="146.86" y="251.6" width="0.83" height="38" fill="#a8a8a8"/><rect x="148.36" y="247.6" width="0.83" height="42" fill="#a8a8a8"/><rect x="149.56" y="249.6" width="0.83" height="40" fill="#a8a8a8"/><rect x="151.86" y="246.6" width="0.83" height="43" fill="#a8a8a8"/><rect x="153.06" y="253.6" width="0.83" height="36" fill="#a8a8a8"/><rect x="155.16" y="244.6" width="0.83" height="45" fill="#a8a8a8"/><rect x="53.18" y="285.51" width="0.93" height="4.09" fill="#9c9c9c"/><rect x="54.05" y="285.56" width="0.93" height="4.04" fill="#9c9c9c"/><rect x="54.93" y="286.14" width="0.93" height="3.46" fill="#9c9c9c"/><rect x="55.8" y="284.78" width="0.93" height="4.82" fill="#9c9c9c"/><rect x="56.68" y="286.17" width="0.93" height="3.43" fill="#9c9c9c"/><rect x="57.55" y="285.45" width="0.93" height="4.15" fill="#9c9c9c"/><rect x="58.43" y="284.9" width="0.93" height="4.7" fill="#9c9c9c"/><rect x="59.31" y="286.02" width="0.93" height="3.58" fill="#9c9c9c"/><rect x="60.18" y="285.07" width="0.93" height="4.53" fill="#9c9c9c"/><rect x="61.06" y="284.73" width="0.93" height="4.87" fill="#9c9c9c"/><rect x="61.93" y="285.23" width="0.93" height="4.37" fill="#9c9c9c"/><rect x="62.81" y="284.98" width="0.93" height="4.62" fill="#9c9c9c"/><rect x="63.69" y="286.06" width="0.93" height="3.54" fill="#9c9c9c"/><rect x="64.56" y="285.54" width="0.93" height="4.06" fill="#9c9c9c"/><rect x="65.44" y="285.99" width="0.93" height="3.61" fill="#9c9c9c"/><rect x="77.7" y="285.43" width="0.93" height="4.17" fill="#9c9c9c"/><rect x="78.58" y="286.19" width="0.93" height="3.41" fill="#9c9c9c"/><rect x="79.45" y="285.97" width="0.93" height="3.63" fill="#9c9c9c"/><rect x="80.33" y="289.05" width="0.93" height="0.55" fill="#9c9c9c"/><rect x="81.2" y="289.08" width="0.93" height="0.52" fill="#9c9c9c"/><rect x="82.08" y="289.05" width="0.93" height="0.55" fill="#9c9c9c"/><rect x="82.95" y="285.04" width="0.93" height="4.56" fill="#9c9c9c"/><rect x="83.83" y="284.89" width="0.93" height="4.71" fill="#9c9c9c"/><rect x="84.71" y="284.35" width="0.93" height="5.25" fill="#9c9c9c"/><rect x="85.58" y="284.71" width="0.93" height="4.89" fill="#9c9c9c"/><rect x="86.46" y="284.98" width="0.93" height="4.62" fill="#9c9c9c"/><rect x="87.33" y="284.67" width="0.93" height="4.93" fill="#9c9c9c"/><rect x="88.21" y="285.09" width="0.93" height="4.51" fill="#9c9c9c"/><rect x="89.09" y="284.55" width="0.93" height="5.05" fill="#9c9c9c"/><rect x="89.96" y="283.21" width="0.93" height="6.39" fill="#9c9c9c"/><rect x="90.84" y="283.16" width="0.93" height="6.44" fill="#9c9c9c"/><rect x="91.71" y="283.75" width="0.93" height="5.85" fill="#9c9c9c"/><rect x="92.59" y="283.92" width="0.93" height="5.68" fill="#9c9c9c"/><rect x="93.46" y="284.18" width="0.93" height="5.42" fill="#9c9c9c"/><rect x="94.34" y="284.65" width="0.93" height="4.95" fill="#9c9c9c"/><rect x="95.22" y="284.15" width="0.93" height="5.45" fill="#9c9c9c"/><rect x="96.09" y="282.9" width="0.93" height="6.7" fill="#9c9c9c"/><rect x="96.97" y="282.6" width="0.93" height="7" fill="#9c9c9c"/><rect x="97.84" y="283.68" width="0.93" height="5.92" fill="#9c9c9c"/><rect x="98.72" y="282.58" width="0.93" height="7.02" fill="#9c9c9c"/><rect x="99.59" y="282.5" width="0.93" height="7.1" fill="#9c9c9c"/><rect x="100.47" y="282.51" width="0.93" height="7.09" fill="#9c9c9c"/><rect x="101.35" y="282.33" width="0.93" height="7.27" fill="#9c9c9c"/><rect x="102.22" y="281.81" width="0.93" height="7.79" fill="#9c9c9c"/><rect x="103.1" y="282.64" width="0.93" height="6.96" fill="#9c9c9c"/><rect x="103.97" y="281.44" width="0.93" height="8.16" fill="#9c9c9c"/><rect x="104.85" y="282.43" width="0.93" height="7.17" fill="#9c9c9c"/><rect x="105.73" y="281.58" width="0.93" height="8.02" fill="#9c9c9c"/><rect x="106.6" y="280.45" width="0.93" height="9.15" fill="#9c9c9c"/><rect x="107.48" y="280.43" width="0.93" height="9.17" fill="#9c9c9c"/><rect x="108.35" y="281.49" width="0.93" height="8.11" fill="#9c9c9c"/><rect x="109.23" y="279.04" width="0.93" height="10.56" fill="#9c9c9c"/><rect x="110.1" y="279.76" width="0.93" height="9.84" fill="#9c9c9c"/><rect x="110.98" y="279.48" width="0.93" height="10.12" fill="#9c9c9c"/><rect x="111.86" y="281.18" width="0.93" height="8.42" fill="#9c9c9c"/><rect x="112.73" y="278.58" width="0.93" height="11.02" fill="#9c9c9c"/><rect x="113.61" y="279.33" width="0.93" height="10.27" fill="#9c9c9c"/><rect x="114.48" y="276.99" width="0.93" height="12.61" fill="#9c9c9c"/><rect x="115.36" y="277.42" width="0.93" height="12.18" fill="#9c9c9c"/><rect x="116.24" y="275.2" width="0.93" height="14.4" fill="#9c9c9c"/><rect x="117.11" y="275.49" width="0.93" height="14.11" fill="#9c9c9c"/><rect x="117.99" y="274.17" width="0.93" height="15.43" fill="#9c9c9c"/><rect x="118.86" y="275.21" width="0.93" height="14.39" fill="#9c9c9c"/><rect x="119.74" y="272" width="0.93" height="17.6" fill="#9c9c9c"/><rect x="120.61" y="269.86" width="0.93" height="19.74" fill="#9c9c9c"/><rect x="121.49" y="267.65" width="0.93" height="21.95" fill="#9c9c9c"/><rect x="122.37" y="270" width="0.93" height="19.6" fill="#9c9c9c"/><rect x="123.24" y="264.99" width="0.93" height="24.61" fill="#9c9c9c"/><rect x="124.12" y="263.61" width="0.93" height="25.99" fill="#9c9c9c"/><rect x="124.99" y="264.09" width="0.93" height="25.51" fill="#9c9c9c"/><rect x="125.87" y="260.3" width="0.93" height="29.3" fill="#9c9c9c"/><rect x="126.75" y="259.7" width="0.93" height="29.9" fill="#9c9c9c"/><rect x="127.62" y="263.32" width="0.93" height="26.28" fill="#9c9c9c"/><rect x="128.5" y="262.6" width="0.93" height="27" fill="#9c9c9c"/><rect x="129.37" y="265.74" width="0.93" height="23.86" fill="#9c9c9c"/><rect x="130.25" y="258.4" width="0.93" height="31.2" fill="#9c9c9c"/><rect x="131.12" y="257.66" width="0.93" height="31.94" fill="#9c9c9c"/><rect x="132" y="262.7" width="0.93" height="26.9" fill="#9c9c9c"/><rect x="132.88" y="260.79" width="0.93" height="28.81" fill="#9c9c9c"/><rect x="133.75" y="260.8" width="0.93" height="28.8" fill="#9c9c9c"/><rect x="134.63" y="260.98" width="0.93" height="28.62" fill="#9c9c9c"/><rect x="135.5" y="266.78" width="0.93" height="22.82" fill="#9c9c9c"/><rect x="136.38" y="261.24" width="0.93" height="28.36" fill="#9c9c9c"/><rect x="137.26" y="263.81" width="0.93" height="25.79" fill="#9c9c9c"/><rect x="138.13" y="263.65" width="0.93" height="25.95" fill="#9c9c9c"/><rect x="139.01" y="266.5" width="0.93" height="23.1" fill="#9c9c9c"/><rect x="139.88" y="265.31" width="0.93" height="24.29" fill="#9c9c9c"/><rect x="140.76" y="264.23" width="0.93" height="25.37" fill="#9c9c9c"/><rect x="141.63" y="265.6" width="0.93" height="24" fill="#9c9c9c"/><rect x="142.51" y="265.05" width="0.93" height="24.55" fill="#9c9c9c"/><rect x="143.39" y="271.12" width="0.93" height="18.48" fill="#9c9c9c"/><rect x="144.26" y="270.14" width="0.93" height="19.46" fill="#9c9c9c"/><rect x="145.14" y="267.92" width="0.93" height="21.68" fill="#9c9c9c"/><rect x="146.01" y="266.34" width="0.93" height="23.26" fill="#9c9c9c"/><rect x="146.89" y="270.07" width="0.93" height="19.53" fill="#9c9c9c"/><rect x="147.77" y="266.39" width="0.93" height="23.21" fill="#9c9c9c"/><rect x="148.64" y="267.01" width="0.93" height="22.59" fill="#9c9c9c"/><rect x="149.52" y="271.94" width="0.93" height="17.66" fill="#9c9c9c"/><rect x="150.39" y="268.5" width="0.93" height="21.1" fill="#9c9c9c"/><rect x="151.27" y="270.38" width="0.93" height="19.22" fill="#9c9c9c"/><rect x="152.14" y="271.68" width="0.93" height="17.92" fill="#9c9c9c"/><rect x="153.02" y="270.93" width="0.93" height="18.67" fill="#9c9c9c"/><rect x="153.9" y="269.32" width="0.93" height="20.28" fill="#9c9c9c"/><rect x="154.77" y="270.33" width="0.93" height="19.27" fill="#9c9c9c"/><rect x="155.65" y="270.13" width="0.93" height="19.47" fill="#9c9c9c"/><rect x="156.52" y="271.35" width="0.93" height="18.25" fill="#9c9c9c"/><rect x="53.18" y="286.94" width="0.93" height="2.66" fill="#8a8a8a"/><rect x="54.05" y="287.15" width="0.93" height="2.45" fill="#8a8a8a"/><rect x="54.93" y="286.57" width="0.93" height="3.03" fill="#8a8a8a"/><rect x="55.8" y="286.62" width="0.93" height="2.98" fill="#8a8a8a"/><rect x="56.68" y="287.51" width="0.93" height="2.09" fill="#8a8a8a"/><rect x="57.55" y="285.84" width="0.93" height="3.76" fill="#8a8a8a"/><rect x="58.43" y="288.1" width="0.93" height="1.5" fill="#8a8a8a"/><rect x="59.31" y="287.09" width="0.93" height="2.51" fill="#8a8a8a"/><rect x="60.18" y="287.4" width="0.93" height="2.2" fill="#8a8a8a"/><rect x="61.06" y="287.07" width="0.93" height="2.53" fill="#8a8a8a"/><rect x="61.93" y="287.81" width="0.93" height="1.79" fill="#8a8a8a"/><rect x="62.81" y="286.02" width="0.93" height="3.58" fill="#8a8a8a"/><rect x="63.69" y="287.17" width="0.93" height="2.43" fill="#8a8a8a"/><rect x="64.56" y="288.01" width="0.93" height="1.59" fill="#8a8a8a"/><rect x="65.44" y="286.57" width="0.93" height="3.03" fill="#8a8a8a"/><rect x="77.7" y="287.86" width="0.93" height="1.74" fill="#8a8a8a"/><rect x="78.58" y="286.74" width="0.93" height="2.86" fill="#8a8a8a"/><rect x="79.45" y="287.25" width="0.93" height="2.35" fill="#8a8a8a"/><rect x="82.95" y="286.65" width="0.93" height="2.95" fill="#8a8a8a"/><rect x="83.83" y="285.7" width="0.93" height="3.9" fill="#8a8a8a"/><rect x="84.71" y="286.05" width="0.93" height="3.55" fill="#8a8a8a"/><rect x="85.58" y="287.05" width="0.93" height="2.55" fill="#8a8a8a"/><rect x="86.46" y="286.07" width="0.93" height="3.53" fill="#8a8a8a"/><rect x="87.33" y="286.49" width="0.93" height="3.11" fill="#8a8a8a"/><rect x="88.21" y="287.18" width="0.93" height="2.42" fill="#8a8a8a"/><rect x="89.09" y="287.74" width="0.93" height="1.86" fill="#8a8a8a"/><rect x="89.96" y="286.61" width="0.93" height="2.99" fill="#8a8a8a"/><rect x="90.84" y="286.69" width="0.93" height="2.91" fill="#8a8a8a"/><rect x="91.71" y="285.71" width="0.93" height="3.89" fill="#8a8a8a"/><rect x="92.59" y="285.68" width="0.93" height="3.92" fill="#8a8a8a"/><rect x="93.46" y="286.58" width="0.93" height="3.02" fill="#8a8a8a"/><rect x="94.34" y="287.22" width="0.93" height="2.38" fill="#8a8a8a"/><rect x="95.22" y="285.87" width="0.93" height="3.73" fill="#8a8a8a"/><rect x="96.09" y="288.1" width="0.93" height="1.5" fill="#8a8a8a"/><rect x="96.97" y="287.83" width="0.93" height="1.77" fill="#8a8a8a"/><rect x="97.84" y="286.69" width="0.93" height="2.91" fill="#8a8a8a"/><rect x="98.72" y="286.56" width="0.93" height="3.04" fill="#8a8a8a"/><rect x="99.59" y="287.75" width="0.93" height="1.85" fill="#8a8a8a"/><rect x="100.47" y="285.03" width="0.93" height="4.57" fill="#8a8a8a"/><rect x="101.35" y="284.37" width="0.93" height="5.23" fill="#8a8a8a"/><rect x="102.22" y="285.66" width="0.93" height="3.94" fill="#8a8a8a"/><rect x="103.1" y="285.52" width="0.93" height="4.08" fill="#8a8a8a"/><rect x="103.97" y="286.03" width="0.93" height="3.57" fill="#8a8a8a"/><rect x="104.85" y="285.87" width="0.93" height="3.73" fill="#8a8a8a"/><rect x="105.73" y="284.17" width="0.93" height="5.43" fill="#8a8a8a"/><rect x="106.6" y="285.65" width="0.93" height="3.95" fill="#8a8a8a"/><rect x="107.48" y="284.2" width="0.93" height="5.4" fill="#8a8a8a"/><rect x="108.35" y="284.32" width="0.93" height="5.28" fill="#8a8a8a"/><rect x="109.23" y="285.11" width="0.93" height="4.49" fill="#8a8a8a"/><rect x="110.1" y="285.95" width="0.93" height="3.65" fill="#8a8a8a"/><rect x="110.98" y="284.15" width="0.93" height="5.45" fill="#8a8a8a"/><rect x="111.86" y="285.36" width="0.93" height="4.24" fill="#8a8a8a"/><rect x="112.73" y="285.56" width="0.93" height="4.04" fill="#8a8a8a"/><rect x="113.61" y="285.8" width="0.93" height="3.8" fill="#8a8a8a"/><rect x="114.48" y="284.14" width="0.93" height="5.46" fill="#8a8a8a"/><rect x="115.36" y="285.37" width="0.93" height="4.23" fill="#8a8a8a"/><rect x="116.24" y="285.88" width="0.93" height="3.72" fill="#8a8a8a"/><rect x="117.11" y="285.41" width="0.93" height="4.19" fill="#8a8a8a"/><rect x="117.99" y="286.3" width="0.93" height="3.3" fill="#8a8a8a"/><rect x="118.86" y="285.05" width="0.93" height="4.55" fill="#8a8a8a"/><rect x="119.74" y="285.49" width="0.93" height="4.11" fill="#8a8a8a"/><rect x="120.61" y="285.87" width="0.93" height="3.73" fill="#8a8a8a"/><rect x="121.49" y="284.65" width="0.93" height="4.95" fill="#8a8a8a"/><rect x="122.37" y="284.53" width="0.93" height="5.07" fill="#8a8a8a"/><rect x="123.24" y="286.57" width="0.93" height="3.03" fill="#8a8a8a"/><rect x="124.12" y="285.27" width="0.93" height="4.33" fill="#8a8a8a"/><rect x="124.99" y="285.92" width="0.93" height="3.68" fill="#8a8a8a"/><rect x="125.87" y="284.26" width="0.93" height="5.34" fill="#8a8a8a"/><rect x="126.75" y="284.65" width="0.93" height="4.95" fill="#8a8a8a"/><rect x="127.62" y="285.99" width="0.93" height="3.61" fill="#8a8a8a"/><rect x="128.5" y="285.93" width="0.93" height="3.67" fill="#8a8a8a"/><rect x="129.37" y="286.21" width="0.93" height="3.39" fill="#8a8a8a"/><rect x="130.25" y="284.13" width="0.93" height="5.47" fill="#8a8a8a"/><rect x="131.12" y="285.87" width="0.93" height="3.73" fill="#8a8a8a"/><rect x="132" y="285.08" width="0.93" height="4.52" fill="#8a8a8a"/><rect x="132.88" y="285.41" width="0.93" height="4.19" fill="#8a8a8a"/><rect x="133.75" y="284.99" width="0.93" height="4.61" fill="#8a8a8a"/><rect x="134.63" y="285.09" width="0.93" height="4.51" fill="#8a8a8a"/><rect x="135.5" y="284.74" width="0.93" height="4.86" fill="#8a8a8a"/><rect x="136.38" y="286.3" width="0.93" height="3.3" fill="#8a8a8a"/><rect x="137.26" y="284.7" width="0.93" height="4.9" fill="#8a8a8a"/><rect x="138.13" y="285.85" width="0.93" height="3.75" fill="#8a8a8a"/><rect x="139.01" y="285.27" width="0.93" height="4.33" fill="#8a8a8a"/><rect x="139.88" y="285.76" width="0.93" height="3.84" fill="#8a8a8a"/><rect x="140.76" y="285.86" width="0.93" height="3.74" fill="#8a8a8a"/><rect x="141.63" y="285.28" width="0.93" height="4.32" fill="#8a8a8a"/><rect x="142.51" y="285.44" width="0.93" height="4.16" fill="#8a8a8a"/><rect x="143.39" y="285.7" width="0.93" height="3.9" fill="#8a8a8a"/><rect x="144.26" y="284.74" width="0.93" height="4.86" fill="#8a8a8a"/><rect x="145.14" y="285.12" width="0.93" height="4.48" fill="#8a8a8a"/><rect x="146.01" y="286.51" width="0.93" height="3.09" fill="#8a8a8a"/><rect x="146.89" y="285.97" width="0.93" height="3.63" fill="#8a8a8a"/><rect x="147.77" y="285.46" width="0.93" height="4.14" fill="#8a8a8a"/><rect x="148.64" y="284.31" width="0.93" height="5.29" fill="#8a8a8a"/><rect x="149.52" y="284.38" width="0.93" height="5.22" fill="#8a8a8a"/><rect x="150.39" y="285.24" width="0.93" height="4.36" fill="#8a8a8a"/><rect x="151.27" y="286.56" width="0.93" height="3.04" fill="#8a8a8a"/><rect x="152.14" y="284.65" width="0.93" height="4.95" fill="#8a8a8a"/><rect x="153.02" y="285.53" width="0.93" height="4.07" fill="#8a8a8a"/><rect x="153.9" y="285.16" width="0.93" height="4.44" fill="#8a8a8a"/><rect x="154.77" y="284.83" width="0.93" height="4.77" fill="#8a8a8a"/><rect x="155.65" y="285.02" width="0.93" height="4.58" fill="#8a8a8a"/><rect x="156.52" y="285.4" width="0.93" height="4.2" fill="#8a8a8a"/><rect x="103.97" y="287.51" width="0.93" height="2.09" fill="#3a3a3a"/><rect x="105.73" y="286.43" width="0.93" height="3.17" fill="#3a3a3a"/><rect x="110.98" y="287.14" width="0.93" height="2.46" fill="#3a3a3a"/><rect x="114.48" y="286.93" width="0.93" height="2.67" fill="#3a3a3a"/><rect x="116.24" y="287.64" width="0.93" height="1.96" fill="#3a3a3a"/><rect x="119.74" y="286.65" width="0.93" height="2.95" fill="#3a3a3a"/><rect x="123.24" y="286.42" width="0.93" height="3.18" fill="#3a3a3a"/><rect x="124.12" y="286.81" width="0.93" height="2.79" fill="#3a3a3a"/><rect x="126.75" y="287.52" width="0.93" height="2.08" fill="#3a3a3a"/><rect x="128.5" y="286.88" width="0.93" height="2.72" fill="#3a3a3a"/><rect x="129.37" y="286.7" width="0.93" height="2.9" fill="#141414"/><rect x="130.25" y="286.99" width="0.93" height="2.61" fill="#141414"/><rect x="131.12" y="286.15" width="0.93" height="3.45" fill="#141414"/><rect x="132" y="286.96" width="0.93" height="2.64" fill="#141414"/><rect x="132.88" y="285.24" width="0.93" height="4.36" fill="#141414"/><rect x="133.75" y="287.24" width="0.93" height="2.36" fill="#3a3a3a"/><rect x="134.63" y="285.6" width="0.93" height="4" fill="#141414"/><rect x="135.5" y="284.75" width="0.93" height="4.85" fill="#141414"/><rect x="136.38" y="286.96" width="0.93" height="2.64" fill="#141414"/><rect x="137.26" y="286.72" width="0.93" height="2.88" fill="#141414"/><rect x="146.89" y="287.63" width="0.93" height="1.97" fill="#3a3a3a"/><rect x="149.52" y="286.67" width="0.93" height="2.93" fill="#3a3a3a"/><rect x="151.27" y="286.76" width="0.93" height="2.84" fill="#3a3a3a"/><rect x="152.14" y="287.85" width="0.93" height="1.75" fill="#3a3a3a"/><rect x="153.9" y="286.35" width="0.93" height="3.25" fill="#3a3a3a"/></g>
<polyline points="52.3,232.68 53.18,235.47 54.05,231.05 54.93,230.54 55.8,231.81 56.68,228.01 57.55,226.92 58.43,226.35 59.31,227.14 60.18,223.29 61.06,226.05 61.93,221.5 62.81,223.33 63.69,219.37 64.56,220.74 65.44,217.76 66.31,219.47 67.19,214.67 68.06,214.81 68.94,215.96 69.82,212.48 70.69,212.15 71.57,213.1 72.44,210.02 73.32,212.46 74.2,210.06 75.07,212.11 75.95,209.23 76.82,212.41 77.7,210.25 78.58,211.95 79.45,209 80.33,212.58 81.2,210.24 82.08,213.31 82.95,212.32 83.83,213.72 84.71,210.37 85.58,213.47 86.46,211.11 87.33,212.21 88.21,215.32 89.09,212.47 89.96,216.26 90.84,213.82 91.71,213.75 92.59,216.28 93.46,214.49 94.34,217.59 95.22,214.58 96.09,218.52 96.97,218.41 97.84,218.35 98.72,218.89 99.59,215.83 100.47,219.39 101.35,219.67 102.22,217.81 103.1,217.96 103.97,221.33 104.85,217.48 105.73,218.2 106.6,220.77 107.48,218.98 108.35,222.52 109.23,219.81 110.1,221.84 110.98,220.1 111.86,223.12 112.73,221.38 113.61,222.58 114.48,223.62 115.36,223.84 116.24,225.74 117.11,229.41 117.99,229.21 118.86,232.48 119.74,232.84 120.61,230.79 121.49,233.13 122.37,230.62 123.24,233.49 124.12,229.3 124.99,233.27 125.87,232.5 126.75,229.2 127.62,229.39 128.5,231.16 129.37,227.52 130.25,215.2 131.12,228.83 132,229.85 132.88,235.65 133.75,233.72 134.63,237.99 135.5,238.19 136.38,237.85 137.26,236.03 138.13,239.37 139.01,237.82 139.88,240.41 140.76,238.94 141.63,242.27 142.51,239.43 143.39,243.21 144.26,239.57 145.14,243.87 146.01,243.87 146.89,241.2 147.77,244.56 148.64,242.14 149.52,244.4 150.39,245.98 151.27,242.57 152.14,246.14 153.02,243.53 153.9,246.58 154.77,244.94 155.65,248.35 156.52,245.88 157.4,246.12" fill="none" stroke="#a6d2f2" stroke-width="2.2" stroke-linejoin="round" opacity="0.75"/>
<polyline points="52.3,232.68 53.18,235.47 54.05,231.05 54.93,230.54 55.8,231.81 56.68,228.01 57.55,226.92 58.43,226.35 59.31,227.14 60.18,223.29 61.06,226.05 61.93,221.5 62.81,223.33 63.69,219.37 64.56,220.74 65.44,217.76 66.31,219.47 67.19,214.67 68.06,214.81 68.94,215.96 69.82,212.48 70.69,212.15 71.57,213.1 72.44,210.02 73.32,212.46 74.2,210.06 75.07,212.11 75.95,209.23 76.82,212.41 77.7,210.25 78.58,211.95 79.45,209 80.33,212.58 81.2,210.24 82.08,213.31 82.95,212.32 83.83,213.72 84.71,210.37 85.58,213.47 86.46,211.11 87.33,212.21 88.21,215.32 89.09,212.47 89.96,216.26 90.84,213.82 91.71,213.75 92.59,216.28 93.46,214.49 94.34,217.59 95.22,214.58 96.09,218.52 96.97,218.41 97.84,218.35 98.72,218.89 99.59,215.83 100.47,219.39 101.35,219.67 102.22,217.81 103.1,217.96 103.97,221.33 104.85,217.48 105.73,218.2 106.6,220.77 107.48,218.98 108.35,222.52 109.23,219.81 110.1,221.84 110.98,220.1 111.86,223.12 112.73,221.38 113.61,222.58 114.48,223.62 115.36,223.84 116.24,225.74 117.11,229.41 117.99,229.21 118.86,232.48 119.74,232.84 120.61,230.79 121.49,233.13 122.37,230.62 123.24,233.49 124.12,229.3 124.99,233.27 125.87,232.5 126.75,229.2 127.62,229.39 128.5,231.16 129.37,227.52 130.25,215.2 131.12,228.83 132,229.85 132.88,235.65 133.75,233.72 134.63,237.99 135.5,238.19 136.38,237.85 137.26,236.03 138.13,239.37 139.01,237.82 139.88,240.41 140.76,238.94 141.63,242.27 142.51,239.43 143.39,243.21 144.26,239.57 145.14,243.87 146.01,243.87 146.89,241.2 147.77,244.56 148.64,242.14 149.52,244.4 150.39,245.98 151.27,242.57 152.14,246.14 153.02,243.53 153.9,246.58 154.77,244.94 155.65,248.35 156.52,245.88 157.4,246.12" fill="none" stroke="#27598f" stroke-width="0.85" stroke-linejoin="miter"/>
<g font-family="Liberation Sans, sans-serif" font-weight="bold" font-size="4.2" fill="#1a1a1a" text-anchor="end"><text x="49.3" y="291.1">0</text><text x="49.3" y="276.35">200</text><text x="49.3" y="261.6">400</text><text x="49.3" y="246.85">600</text><text x="49.3" y="232.1">800</text><text x="49.3" y="217.35">1000</text><text x="49.3" y="202.6">1200</text></g>
<g font-family="Liberation Sans, sans-serif" font-weight="bold" font-size="4.2" fill="#1a1a1a"><text x="161.1" y="291.1">0</text><text x="161.1" y="282.25">2</text><text x="161.1" y="273.4">4</text><text x="161.1" y="264.55">6</text><text x="161.1" y="255.7">8</text><text x="161.1" y="246.85">10</text><text x="161.1" y="238">12</text><text x="161.1" y="229.15">14</text><text x="161.1" y="220.3">16</text><text x="161.1" y="211.45">18</text><text x="161.1" y="202.6">20</text></g>
<g font-family="Liberation Sans, sans-serif" font-weight="bold" font-size="4.2" fill="#1a1a1a" text-anchor="end"><text transform="translate(54.24,294) rotate(-90)" >1</text><text transform="translate(60.37,294) rotate(-90)" >8</text><text transform="translate(66.5,294) rotate(-90)" >15</text><text transform="translate(72.63,294) rotate(-90)" >22</text><text transform="translate(78.76,294) rotate(-90)" >29</text><text transform="translate(84.89,294) rotate(-90)" >36</text><text transform="translate(91.02,294) rotate(-90)" >43</text><text transform="translate(97.15,294) rotate(-90)" >50</text><text transform="translate(103.28,294) rotate(-90)" >57</text><text transform="translate(109.42,294) rotate(-90)" >64</text><text transform="translate(115.55,294) rotate(-90)" >71</text><text transform="translate(121.68,294) rotate(-90)" >78</text><text transform="translate(127.81,294) rotate(-90)" >85</text><text transform="translate(133.94,294) rotate(-90)" >92</text><text transform="translate(140.07,294) rotate(-90)" >99</text><text transform="translate(146.2,294) rotate(-90)" >106</text><text transform="translate(152.33,294) rotate(-90)" >113</text><text transform="translate(158.46,294) rotate(-90)" >120</text></g>
<text x="105.3" y="307.4" font-family="Liberation Sans, sans-serif" font-weight="bold" font-size="4.6" fill="#1a1a1a" text-anchor="middle" textLength="23" lengthAdjust="spacingAndGlyphs">Time (Hours)</text>
<text transform="translate(37.7,242.5) rotate(-90)" font-family="Liberation Sans, sans-serif" font-weight="bold" font-size="3.6" fill="#1a1a1a" text-anchor="middle" textLength="29.4" lengthAdjust="spacingAndGlyphs">Number of Objects</text>
<text x="105.5" y="195.6" font-family="Liberation Sans, sans-serif" font-weight="bold" font-size="5.2" fill="#222" text-anchor="middle" textLength="100.4" lengthAdjust="spacingAndGlyphs">Mouse Fetal Liver Cell Culture - MK Maturation</text>
<g font-family="Liberation Sans, sans-serif" font-size="3.4" font-weight="bold" fill="#111"><text x="170.3" y="201.5" textLength="19.2" lengthAdjust="spacingAndGlyphs">Area (µm²)</text><rect x="170.4" y="207.1" width="5" height="2.6" fill="#d0d0d0" stroke="#444" stroke-width="0.35"/><text x="176" y="209.7">330-630</text><rect x="170.4" y="214.87" width="5" height="2.6" fill="#b0b0b0" stroke="#444" stroke-width="0.35"/><text x="176" y="217.47">630-930</text><rect x="170.4" y="222.64" width="5" height="2.6" fill="#8c8c8c" stroke="#444" stroke-width="0.35"/><text x="176" y="225.24">930-1230</text><rect x="170.4" y="230.41" width="5" height="2.6" fill="#5e5e5e" stroke="#444" stroke-width="0.35"/><text x="176" y="233.01">1230-1530</text><rect x="170.4" y="238.18" width="5" height="2.6" fill="#333333" stroke="#444" stroke-width="0.35"/><text x="176" y="240.78">1530-1830</text><rect x="170.4" y="245.95" width="5" height="2.6" fill="#111111" stroke="#444" stroke-width="0.35"/><text x="176" y="248.55">1830-2130</text><line x1="170.4" y1="255.2" x2="175.3" y2="255.2" stroke="#2c6aa6" stroke-width="0.8"/><text x="175.9" y="256.5">30-330</text></g>
<rect x="281.9" y="185.9" width="151" height="129.7" fill="#d6dde3" filter="url(#blur05)"/>
<rect x="284.3" y="188.2" width="146.2" height="125" fill="#fcfcfc" stroke="#e4e8ec" stroke-width="0.6"/>
<g stroke="#d8d8d8" stroke-width="0.5"><line x1="307.2" y1="284.57" x2="426.2" y2="284.57"/><line x1="307.2" y1="275.34" x2="426.2" y2="275.34"/><line x1="307.2" y1="266.11" x2="426.2" y2="266.11"/><line x1="307.2" y1="256.88" x2="426.2" y2="256.88"/><line x1="307.2" y1="247.65" x2="426.2" y2="247.65"/><line x1="307.2" y1="238.42" x2="426.2" y2="238.42"/><line x1="307.2" y1="229.19" x2="426.2" y2="229.19"/><line x1="307.2" y1="219.96" x2="426.2" y2="219.96"/><line x1="307.2" y1="210.73" x2="426.2" y2="210.73"/><line x1="347.7" y1="201.5" x2="347.7" y2="293.8"/><line x1="387.7" y1="201.5" x2="387.7" y2="293.8"/></g>
<rect x="307.2" y="201.5" width="119" height="92.3" fill="none" stroke="#c0c0c0" stroke-width="0.6"/>
<g font-family="Liberation Sans, sans-serif" font-size="4.2" fill="#767676" text-anchor="middle"><text x="328.7" y="207.9">DAY 4</text><text x="366.2" y="207.9">DAY 5</text><text x="405" y="207.9">DAY 6</text></g>
<g font-family="Liberation Sans, sans-serif" font-weight="bold" font-size="3.9" fill="#1a1a1a" text-anchor="end"><text x="303.3" y="295.2">0%</text><text x="303.3" y="285.97">10%</text><text x="303.3" y="276.74">20%</text><text x="303.3" y="267.51">30%</text><text x="303.3" y="258.28">40%</text><text x="303.3" y="249.05">50%</text><text x="303.3" y="239.82">60%</text><text x="303.3" y="230.59">70%</text><text x="303.3" y="221.36">80%</text><text x="303.3" y="212.13">90%</text><text x="303.3" y="202.9">100%</text></g>
<text x="366.3" y="195.6" font-family="Liberation Sans, sans-serif" font-weight="bold" font-size="5.2" fill="#222" text-anchor="middle" textLength="95" lengthAdjust="spacingAndGlyphs">Proplatelet Production During Cell Culture</text>
<text transform="translate(290.2,247.5) rotate(-90)" font-family="Liberation Sans, sans-serif" font-weight="bold" font-size="3.6" fill="#333" text-anchor="middle">Percent Proplatelet Producing Megakaryocytes</text>
<g font-family="Liberation Sans, sans-serif" font-weight="bold" font-size="3.9" fill="#b02a36"><text x="318.7" y="220">y = 0.1053ln(x) + 0.1732</text><text x="333.7" y="225.2">R² = 0.7174</text></g>
<polyline points="307.7,281.6 309.4,270.3 311.5,267.7 313.7,266.7 315.4,264.5 316.2,259.2 318,251.7 319.7,250.2 321.8,252.4 323.3,256.6 325.4,257 327.6,251.7 329.7,251.1 331.8,252.8 332.9,248.5 335,245.3 337.2,249.6 339.3,248.1 341.5,248.9 343,259.2 344.7,248.1 346.8,251.7 349,248.5 351.1,245.3 353.2,236.8 355.4,250.6 356.4,253.8 358.6,248.5 361.1,247.5 362.6,240.7 364.7,230.4 366.4,240.3 368.1,241.8 370.3,241.8 372.4,245 374.6,240.3 376.7,238.6 377.8,255.3 379.7,233.2 381.4,243.9 382.9,252.5 384.6,249.3 386.1,243.9 387.8,242.8 389.6,227.8 391,236.4 392.8,247.1 394.7,241.8 396.4,236.4 398.1,237.5 399.6,228.3 401.3,233.2 402.8,236.8 403.9,230.4 405.4,232.1 407.5,229.6 409.3,239.6 411,241.8 412.5,240.7 414.6,237.5 416.1,234.3 417.8,230.4 419.5,238.6 421,236.4 422.5,232.6 423.8,238.6 424.7,245 426,240.3" fill="none" stroke="#3a3a3a" stroke-width="0.55"/>
<g fill="#222"><rect x="306.95" y="280.85" width="1.5" height="1.5" transform="rotate(45 307.7 281.6)"/><rect x="308.65" y="269.55" width="1.5" height="1.5" transform="rotate(45 309.4 270.3)"/><rect x="310.75" y="266.95" width="1.5" height="1.5" transform="rotate(45 311.5 267.7)"/><rect x="312.95" y="265.95" width="1.5" height="1.5" transform="rotate(45 313.7 266.7)"/><rect x="314.65" y="263.75" width="1.5" height="1.5" transform="rotate(45 315.4 264.5)"/><rect x="315.45" y="258.45" width="1.5" height="1.5" transform="rotate(45 316.2 259.2)"/><rect x="317.25" y="250.95" width="1.5" height="1.5" transform="rotate(45 318 251.7)"/><rect x="318.95" y="249.45" width="1.5" height="1.5" transform="rotate(45 319.7 250.2)"/><rect x="321.05" y="251.65" width="1.5" height="1.5" transform="rotate(45 321.8 252.4)"/><rect x="322.55" y="255.85" width="1.5" height="1.5" transform="rotate(45 323.3 256.6)"/><rect x="324.65" y="256.25" width="1.5" height="1.5" transform="rotate(45 325.4 257)"/><rect x="326.85" y="250.95" width="1.5" height="1.5" transform="rotate(45 327.6 251.7)"/><rect x="328.95" y="250.35" width="1.5" height="1.5" transform="rotate(45 329.7 251.1)"/><rect x="331.05" y="252.05" width="1.5" height="1.5" transform="rotate(45 331.8 252.8)"/><rect x="332.15" y="247.75" width="1.5" height="1.5" transform="rotate(45 332.9 248.5)"/><rect x="334.25" y="244.55" width="1.5" height="1.5" transform="rotate(45 335 245.3)"/><rect x="336.45" y="248.85" width="1.5" height="1.5" transform="rotate(45 337.2 249.6)"/><rect x="338.55" y="247.35" width="1.5" height="1.5" transform="rotate(45 339.3 248.1)"/><rect x="340.75" y="248.15" width="1.5" height="1.5" transform="rotate(45 341.5 248.9)"/><rect x="342.25" y="258.45" width="1.5" height="1.5" transform="rotate(45 343 259.2)"/><rect x="343.95" y="247.35" width="1.5" height="1.5" transform="rotate(45 344.7 248.1)"/><rect x="346.05" y="250.95" width="1.5" height="1.5" transform="rotate(45 346.8 251.7)"/><rect x="348.25" y="247.75" width="1.5" height="1.5" transform="rotate(45 349 248.5)"/><rect x="350.35" y="244.55" width="1.5" height="1.5" transform="rotate(45 351.1 245.3)"/><rect x="352.45" y="236.05" width="1.5" height="1.5" transform="rotate(45 353.2 236.8)"/><rect x="354.65" y="249.85" width="1.5" height="1.5" transform="rotate(45 355.4 250.6)"/><rect x="355.65" y="253.05" width="1.5" height="1.5" transform="rotate(45 356.4 253.8)"/><rect x="357.85" y="247.75" width="1.5" height="1.5" transform="rotate(45 358.6 248.5)"/><rect x="360.35" y="246.75" width="1.5" height="1.5" transform="rotate(45 361.1 247.5)"/><rect x="361.85" y="239.95" width="1.5" height="1.5" transform="rotate(45 362.6 240.7)"/><rect x="363.95" y="229.65" width="1.5" height="1.5" transform="rotate(45 364.7 230.4)"/><rect x="365.65" y="239.55" width="1.5" height="1.5" transform="rotate(45 366.4 240.3)"/><rect x="367.35" y="241.05" width="1.5" height="1.5" transform="rotate(45 368.1 241.8)"/><rect x="369.55" y="241.05" width="1.5" height="1.5" transform="rotate(45 370.3 241.8)"/><rect x="371.65" y="244.25" width="1.5" height="1.5" transform="rotate(45 372.4 245)"/><rect x="373.85" y="239.55" width="1.5" height="1.5" transform="rotate(45 374.6 240.3)"/><rect x="375.95" y="237.85" width="1.5" height="1.5" transform="rotate(45 376.7 238.6)"/><rect x="377.05" y="254.55" width="1.5" height="1.5" transform="rotate(45 377.8 255.3)"/><rect x="378.95" y="232.45" width="1.5" height="1.5" transform="rotate(45 379.7 233.2)"/><rect x="380.65" y="243.15" width="1.5" height="1.5" transform="rotate(45 381.4 243.9)"/><rect x="382.15" y="251.75" width="1.5" height="1.5" transform="rotate(45 382.9 252.5)"/><rect x="383.85" y="248.55" width="1.5" height="1.5" transform="rotate(45 384.6 249.3)"/><rect x="385.35" y="243.15" width="1.5" height="1.5" transform="rotate(45 386.1 243.9)"/><rect x="387.05" y="242.05" width="1.5" height="1.5" transform="rotate(45 387.8 242.8)"/><rect x="388.85" y="227.05" width="1.5" height="1.5" transform="rotate(45 389.6 227.8)"/><rect x="390.25" y="235.65" width="1.5" height="1.5" transform="rotate(45 391 236.4)"/><rect x="392.05" y="246.35" width="1.5" height="1.5" transform="rotate(45 392.8 247.1)"/><rect x="393.95" y="241.05" width="1.5" height="1.5" transform="rotate(45 394.7 241.8)"/><rect x="395.65" y="235.65" width="1.5" height="1.5" transform="rotate(45 396.4 236.4)"/><rect x="397.35" y="236.75" width="1.5" height="1.5" transform="rotate(45 398.1 237.5)"/><rect x="398.85" y="227.55" width="1.5" height="1.5" transform="rotate(45 399.6 228.3)"/><rect x="400.55" y="232.45" width="1.5" height="1.5" transform="rotate(45 401.3 233.2)"/><rect x="402.05" y="236.05" width="1.5" height="1.5" transform="rotate(45 402.8 236.8)"/><rect x="403.15" y="229.65" width="1.5" height="1.5" transform="rotate(45 403.9 230.4)"/><rect x="404.65" y="231.35" width="1.5" height="1.5" transform="rotate(45 405.4 232.1)"/><rect x="406.75" y="228.85" width="1.5" height="1.5" transform="rotate(45 407.5 229.6)"/><rect x="408.55" y="238.85" width="1.5" height="1.5" transform="rotate(45 409.3 239.6)"/><rect x="410.25" y="241.05" width="1.5" height="1.5" transform="rotate(45 411 241.8)"/><rect x="411.75" y="239.95" width="1.5" height="1.5" transform="rotate(45 412.5 240.7)"/><rect x="413.85" y="236.75" width="1.5" height="1.5" transform="rotate(45 414.6 237.5)"/><rect x="415.35" y="233.55" width="1.5" height="1.5" transform="rotate(45 416.1 234.3)"/><rect x="417.05" y="229.65" width="1.5" height="1.5" transform="rotate(45 417.8 230.4)"/><rect x="418.75" y="237.85" width="1.5" height="1.5" transform="rotate(45 419.5 238.6)"/><rect x="420.25" y="235.65" width="1.5" height="1.5" transform="rotate(45 421 236.4)"/><rect x="421.75" y="231.85" width="1.5" height="1.5" transform="rotate(45 422.5 232.6)"/><rect x="423.05" y="237.85" width="1.5" height="1.5" transform="rotate(45 423.8 238.6)"/><rect x="423.95" y="244.25" width="1.5" height="1.5" transform="rotate(45 424.7 245)"/><rect x="425.25" y="239.55" width="1.5" height="1.5" transform="rotate(45 426 240.3)"/></g>
<g font-family="Liberation Sans, sans-serif" font-weight="bold" font-size="4" fill="#1a1a1a" text-anchor="end"><text transform="translate(309.9,298) rotate(-90)">1</text><text transform="translate(316.55,298) rotate(-90)">4</text><text transform="translate(323.2,298) rotate(-90)">7</text><text transform="translate(329.85,298) rotate(-90)">10</text><text transform="translate(336.5,298) rotate(-90)">13</text><text transform="translate(343.15,298) rotate(-90)">16</text><text transform="translate(349.8,298) rotate(-90)">19</text><text transform="translate(356.45,298) rotate(-90)">22</text><text transform="translate(363.1,298) rotate(-90)">25</text><text transform="translate(369.75,298) rotate(-90)">28</text><text transform="translate(376.4,298) rotate(-90)">31</text><text transform="translate(383.05,298) rotate(-90)">34</text><text transform="translate(389.7,298) rotate(-90)">37</text><text transform="translate(396.35,298) rotate(-90)">40</text><text transform="translate(403,298) rotate(-90)">43</text><text transform="translate(409.65,298) rotate(-90)">46</text><text transform="translate(416.3,298) rotate(-90)">49</text><text transform="translate(422.95,298) rotate(-90)">52</text></g>
<text x="366.3" y="309.2" font-family="Liberation Sans, sans-serif" font-weight="bold" font-size="4.6" fill="#1a1a1a" text-anchor="middle" textLength="22.5" lengthAdjust="spacingAndGlyphs">Time (Hours)</text>
</svg>
</body></html>
